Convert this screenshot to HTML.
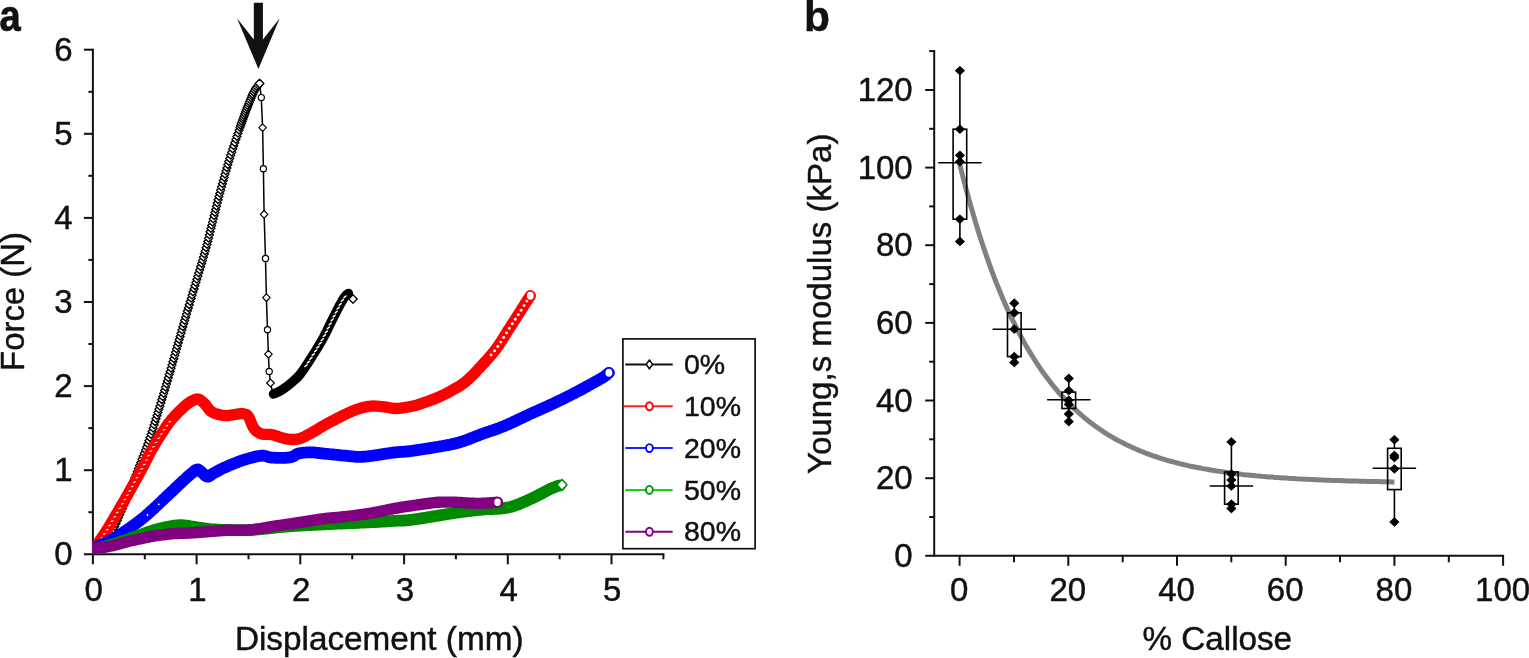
<!DOCTYPE html>
<html lang="en"><head><meta charset="utf-8"><title>Force–displacement and Young's modulus</title>
<style>html,body{margin:0;padding:0;background:#fff;}body{width:1529px;height:658px;overflow:hidden;}svg{display:block;}text{font-family:"Liberation Sans", sans-serif;fill:#111;stroke:#111;stroke-width:0.45px;}</style>
</head><body>
<svg width="1529" height="658" viewBox="0 0 1529 658">
<rect width="1529" height="658" fill="#fff"/>
<g id="panel-a">
<line x1="92.9" y1="48.7" x2="92.9" y2="555.3" stroke="#111" stroke-width="2" />
<line x1="83.9" y1="554.3" x2="664.4" y2="554.3" stroke="#111" stroke-width="2" />
<text x="72.6" y="565.2" font-size="33" text-anchor="end" font-weight="normal" >0</text>
<line x1="88.4" y1="512.2" x2="92.9" y2="512.2" stroke="#111" stroke-width="2" />
<line x1="83.9" y1="470.2" x2="92.9" y2="470.2" stroke="#111" stroke-width="2" />
<text x="72.6" y="481.1" font-size="33" text-anchor="end" font-weight="normal" >1</text>
<line x1="88.4" y1="428.1" x2="92.9" y2="428.1" stroke="#111" stroke-width="2" />
<line x1="83.9" y1="386.1" x2="92.9" y2="386.1" stroke="#111" stroke-width="2" />
<text x="72.6" y="397.0" font-size="33" text-anchor="end" font-weight="normal" >2</text>
<line x1="88.4" y1="344.0" x2="92.9" y2="344.0" stroke="#111" stroke-width="2" />
<line x1="83.9" y1="302.0" x2="92.9" y2="302.0" stroke="#111" stroke-width="2" />
<text x="72.6" y="312.9" font-size="33" text-anchor="end" font-weight="normal" >3</text>
<line x1="88.4" y1="259.9" x2="92.9" y2="259.9" stroke="#111" stroke-width="2" />
<line x1="83.9" y1="217.9" x2="92.9" y2="217.9" stroke="#111" stroke-width="2" />
<text x="72.6" y="228.8" font-size="33" text-anchor="end" font-weight="normal" >4</text>
<line x1="88.4" y1="175.8" x2="92.9" y2="175.8" stroke="#111" stroke-width="2" />
<line x1="83.9" y1="133.8" x2="92.9" y2="133.8" stroke="#111" stroke-width="2" />
<text x="72.6" y="144.7" font-size="33" text-anchor="end" font-weight="normal" >5</text>
<line x1="88.4" y1="91.8" x2="92.9" y2="91.8" stroke="#111" stroke-width="2" />
<line x1="83.9" y1="49.7" x2="92.9" y2="49.7" stroke="#111" stroke-width="2" />
<text x="72.6" y="60.6" font-size="33" text-anchor="end" font-weight="normal" >6</text>
<line x1="92.9" y1="554.3" x2="92.9" y2="564.3" stroke="#111" stroke-width="2" />
<text x="93.7" y="600.6" font-size="33" text-anchor="middle" font-weight="normal" >0</text>
<line x1="144.8" y1="554.3" x2="144.8" y2="559.3" stroke="#111" stroke-width="2" />
<line x1="196.6" y1="554.3" x2="196.6" y2="564.3" stroke="#111" stroke-width="2" />
<text x="197.4" y="600.6" font-size="33" text-anchor="middle" font-weight="normal" >1</text>
<line x1="248.5" y1="554.3" x2="248.5" y2="559.3" stroke="#111" stroke-width="2" />
<line x1="300.3" y1="554.3" x2="300.3" y2="564.3" stroke="#111" stroke-width="2" />
<text x="301.1" y="600.6" font-size="33" text-anchor="middle" font-weight="normal" >2</text>
<line x1="352.2" y1="554.3" x2="352.2" y2="559.3" stroke="#111" stroke-width="2" />
<line x1="404.1" y1="554.3" x2="404.1" y2="564.3" stroke="#111" stroke-width="2" />
<text x="404.9" y="600.6" font-size="33" text-anchor="middle" font-weight="normal" >3</text>
<line x1="455.9" y1="554.3" x2="455.9" y2="559.3" stroke="#111" stroke-width="2" />
<line x1="507.8" y1="554.3" x2="507.8" y2="564.3" stroke="#111" stroke-width="2" />
<text x="508.6" y="600.6" font-size="33" text-anchor="middle" font-weight="normal" >4</text>
<line x1="559.6" y1="554.3" x2="559.6" y2="559.3" stroke="#111" stroke-width="2" />
<line x1="611.5" y1="554.3" x2="611.5" y2="564.3" stroke="#111" stroke-width="2" />
<text x="612.3" y="600.6" font-size="33" text-anchor="middle" font-weight="normal" >5</text>
<line x1="663.4" y1="554.3" x2="663.4" y2="559.3" stroke="#111" stroke-width="2" />
<clipPath id="clipA"><rect x="92.2" y="0" width="700" height="553.4"/></clipPath>
<g clip-path="url(#clipA)">
<path d="M89.0 544.0L93.0 540.3L97.0 544.0L93.0 547.7Z" fill="#fff" stroke="#000" stroke-width="1.42" stroke-linejoin="round"/>
<path d="M92.3 543.5L96.3 539.8L100.3 543.5L96.3 547.2Z" fill="#fff" stroke="#000" stroke-width="1.42" stroke-linejoin="round"/>
<path d="M95.5 542.8L99.5 539.1L103.5 542.8L99.5 546.5Z" fill="#fff" stroke="#000" stroke-width="1.42" stroke-linejoin="round"/>
<path d="M98.6 541.7L102.6 538.0L106.6 541.7L102.6 545.4Z" fill="#fff" stroke="#000" stroke-width="1.42" stroke-linejoin="round"/>
<path d="M101.4 539.9L105.4 536.2L109.4 539.9L105.4 543.6Z" fill="#fff" stroke="#000" stroke-width="1.42" stroke-linejoin="round"/>
<path d="M103.8 537.8L107.8 534.1L111.8 537.8L107.8 541.5Z" fill="#fff" stroke="#000" stroke-width="1.42" stroke-linejoin="round"/>
<path d="M106.0 535.3L110.0 531.6L114.0 535.3L110.0 539.0Z" fill="#fff" stroke="#000" stroke-width="1.42" stroke-linejoin="round"/>
<path d="M107.8 532.5L111.8 528.8L115.8 532.5L111.8 536.2Z" fill="#fff" stroke="#000" stroke-width="1.42" stroke-linejoin="round"/>
<path d="M109.3 529.6L113.3 525.9L117.3 529.6L113.3 533.3Z" fill="#fff" stroke="#000" stroke-width="1.42" stroke-linejoin="round"/>
<path d="M110.7 526.6L114.7 522.9L118.7 526.6L114.7 530.3Z" fill="#fff" stroke="#000" stroke-width="1.42" stroke-linejoin="round"/>
<path d="M112.0 523.6L116.0 519.9L120.0 523.6L116.0 527.3Z" fill="#fff" stroke="#000" stroke-width="1.42" stroke-linejoin="round"/>
<path d="M113.3 520.5L117.3 516.8L121.3 520.5L117.3 524.2Z" fill="#fff" stroke="#000" stroke-width="1.42" stroke-linejoin="round"/>
<path d="M114.5 517.5L118.5 513.8L122.5 517.5L118.5 521.2Z" fill="#fff" stroke="#000" stroke-width="1.42" stroke-linejoin="round"/>
<path d="M115.8 514.4L119.8 510.7L123.8 514.4L119.8 518.1Z" fill="#fff" stroke="#000" stroke-width="1.42" stroke-linejoin="round"/>
<path d="M117.1 511.4L121.1 507.7L125.1 511.4L121.1 515.1Z" fill="#fff" stroke="#000" stroke-width="1.42" stroke-linejoin="round"/>
<path d="M118.5 508.4L122.5 504.7L126.5 508.4L122.5 512.1Z" fill="#fff" stroke="#000" stroke-width="1.42" stroke-linejoin="round"/>
<path d="M119.8 505.3L123.8 501.6L127.8 505.3L123.8 509.0Z" fill="#fff" stroke="#000" stroke-width="1.42" stroke-linejoin="round"/>
<path d="M121.1 502.3L125.1 498.6L129.1 502.3L125.1 506.0Z" fill="#fff" stroke="#000" stroke-width="1.42" stroke-linejoin="round"/>
<path d="M122.4 499.3L126.4 495.6L130.4 499.3L126.4 503.0Z" fill="#fff" stroke="#000" stroke-width="1.42" stroke-linejoin="round"/>
<path d="M123.7 496.2L127.7 492.5L131.7 496.2L127.7 499.9Z" fill="#fff" stroke="#000" stroke-width="1.42" stroke-linejoin="round"/>
<path d="M124.9 493.2L128.9 489.5L132.9 493.2L128.9 496.9Z" fill="#fff" stroke="#000" stroke-width="1.42" stroke-linejoin="round"/>
<path d="M126.2 490.1L130.2 486.4L134.2 490.1L130.2 493.8Z" fill="#fff" stroke="#000" stroke-width="1.42" stroke-linejoin="round"/>
<path d="M127.4 487.1L131.4 483.4L135.4 487.1L131.4 490.8Z" fill="#fff" stroke="#000" stroke-width="1.42" stroke-linejoin="round"/>
<path d="M128.6 484.0L132.6 480.3L136.6 484.0L132.6 487.7Z" fill="#fff" stroke="#000" stroke-width="1.42" stroke-linejoin="round"/>
<path d="M129.8 480.9L133.8 477.2L137.8 480.9L133.8 484.6Z" fill="#fff" stroke="#000" stroke-width="1.42" stroke-linejoin="round"/>
<path d="M130.9 477.8L134.9 474.1L138.9 477.8L134.9 481.5Z" fill="#fff" stroke="#000" stroke-width="1.42" stroke-linejoin="round"/>
<path d="M132.1 474.7L136.1 471.0L140.1 474.7L136.1 478.4Z" fill="#fff" stroke="#000" stroke-width="1.42" stroke-linejoin="round"/>
<path d="M133.3 471.7L137.3 468.0L141.3 471.7L137.3 475.4Z" fill="#fff" stroke="#000" stroke-width="1.42" stroke-linejoin="round"/>
<path d="M134.5 468.6L138.5 464.9L142.5 468.6L138.5 472.3Z" fill="#fff" stroke="#000" stroke-width="1.42" stroke-linejoin="round"/>
<path d="M135.6 465.5L139.6 461.8L143.6 465.5L139.6 469.2Z" fill="#fff" stroke="#000" stroke-width="1.42" stroke-linejoin="round"/>
<path d="M136.8 462.4L140.8 458.7L144.8 462.4L140.8 466.1Z" fill="#fff" stroke="#000" stroke-width="1.42" stroke-linejoin="round"/>
<path d="M138.0 459.3L142.0 455.6L146.0 459.3L142.0 463.0Z" fill="#fff" stroke="#000" stroke-width="1.42" stroke-linejoin="round"/>
<path d="M139.2 456.3L143.2 452.6L147.2 456.3L143.2 460.0Z" fill="#fff" stroke="#000" stroke-width="1.42" stroke-linejoin="round"/>
<path d="M140.4 453.2L144.4 449.5L148.4 453.2L144.4 456.9Z" fill="#fff" stroke="#000" stroke-width="1.42" stroke-linejoin="round"/>
<path d="M141.6 450.1L145.6 446.4L149.6 450.1L145.6 453.8Z" fill="#fff" stroke="#000" stroke-width="1.42" stroke-linejoin="round"/>
<path d="M142.7 447.0L146.7 443.3L150.7 447.0L146.7 450.7Z" fill="#fff" stroke="#000" stroke-width="1.42" stroke-linejoin="round"/>
<path d="M143.8 443.9L147.8 440.2L151.8 443.9L147.8 447.6Z" fill="#fff" stroke="#000" stroke-width="1.42" stroke-linejoin="round"/>
<path d="M144.9 440.8L148.9 437.1L152.9 440.8L148.9 444.5Z" fill="#fff" stroke="#000" stroke-width="1.42" stroke-linejoin="round"/>
<path d="M146.0 437.7L150.0 434.0L154.0 437.7L150.0 441.4Z" fill="#fff" stroke="#000" stroke-width="1.42" stroke-linejoin="round"/>
<path d="M147.0 434.5L151.0 430.8L155.0 434.5L151.0 438.2Z" fill="#fff" stroke="#000" stroke-width="1.42" stroke-linejoin="round"/>
<path d="M148.1 431.4L152.1 427.7L156.1 431.4L152.1 435.1Z" fill="#fff" stroke="#000" stroke-width="1.42" stroke-linejoin="round"/>
<path d="M149.1 428.2L153.1 424.5L157.1 428.2L153.1 431.9Z" fill="#fff" stroke="#000" stroke-width="1.42" stroke-linejoin="round"/>
<path d="M150.1 425.1L154.1 421.4L158.1 425.1L154.1 428.8Z" fill="#fff" stroke="#000" stroke-width="1.42" stroke-linejoin="round"/>
<path d="M151.0 421.9L155.0 418.2L159.0 421.9L155.0 425.6Z" fill="#fff" stroke="#000" stroke-width="1.42" stroke-linejoin="round"/>
<path d="M152.0 418.8L156.0 415.1L160.0 418.8L156.0 422.5Z" fill="#fff" stroke="#000" stroke-width="1.42" stroke-linejoin="round"/>
<path d="M153.0 415.6L157.0 411.9L161.0 415.6L157.0 419.3Z" fill="#fff" stroke="#000" stroke-width="1.42" stroke-linejoin="round"/>
<path d="M153.9 412.5L157.9 408.8L161.9 412.5L157.9 416.2Z" fill="#fff" stroke="#000" stroke-width="1.42" stroke-linejoin="round"/>
<path d="M154.9 409.3L158.9 405.6L162.9 409.3L158.9 413.0Z" fill="#fff" stroke="#000" stroke-width="1.42" stroke-linejoin="round"/>
<path d="M155.9 406.2L159.9 402.5L163.9 406.2L159.9 409.9Z" fill="#fff" stroke="#000" stroke-width="1.42" stroke-linejoin="round"/>
<path d="M156.8 403.0L160.8 399.3L164.8 403.0L160.8 406.7Z" fill="#fff" stroke="#000" stroke-width="1.42" stroke-linejoin="round"/>
<path d="M157.8 399.8L161.8 396.1L165.8 399.8L161.8 403.5Z" fill="#fff" stroke="#000" stroke-width="1.42" stroke-linejoin="round"/>
<path d="M158.7 396.7L162.7 393.0L166.7 396.7L162.7 400.4Z" fill="#fff" stroke="#000" stroke-width="1.42" stroke-linejoin="round"/>
<path d="M159.7 393.5L163.7 389.8L167.7 393.5L163.7 397.2Z" fill="#fff" stroke="#000" stroke-width="1.42" stroke-linejoin="round"/>
<path d="M160.6 390.4L164.6 386.7L168.6 390.4L164.6 394.1Z" fill="#fff" stroke="#000" stroke-width="1.42" stroke-linejoin="round"/>
<path d="M161.5 387.2L165.5 383.5L169.5 387.2L165.5 390.9Z" fill="#fff" stroke="#000" stroke-width="1.42" stroke-linejoin="round"/>
<path d="M162.5 384.0L166.5 380.3L170.5 384.0L166.5 387.7Z" fill="#fff" stroke="#000" stroke-width="1.42" stroke-linejoin="round"/>
<path d="M163.4 380.9L167.4 377.2L171.4 380.9L167.4 384.6Z" fill="#fff" stroke="#000" stroke-width="1.42" stroke-linejoin="round"/>
<path d="M164.3 377.7L168.3 374.0L172.3 377.7L168.3 381.4Z" fill="#fff" stroke="#000" stroke-width="1.42" stroke-linejoin="round"/>
<path d="M165.2 374.5L169.2 370.8L173.2 374.5L169.2 378.2Z" fill="#fff" stroke="#000" stroke-width="1.42" stroke-linejoin="round"/>
<path d="M166.2 371.4L170.2 367.7L174.2 371.4L170.2 375.1Z" fill="#fff" stroke="#000" stroke-width="1.42" stroke-linejoin="round"/>
<path d="M167.1 368.2L171.1 364.5L175.1 368.2L171.1 371.9Z" fill="#fff" stroke="#000" stroke-width="1.42" stroke-linejoin="round"/>
<path d="M168.0 365.0L172.0 361.3L176.0 365.0L172.0 368.7Z" fill="#fff" stroke="#000" stroke-width="1.42" stroke-linejoin="round"/>
<path d="M168.9 361.8L172.9 358.1L176.9 361.8L172.9 365.5Z" fill="#fff" stroke="#000" stroke-width="1.42" stroke-linejoin="round"/>
<path d="M169.8 358.7L173.8 355.0L177.8 358.7L173.8 362.4Z" fill="#fff" stroke="#000" stroke-width="1.42" stroke-linejoin="round"/>
<path d="M170.7 355.5L174.7 351.8L178.7 355.5L174.7 359.2Z" fill="#fff" stroke="#000" stroke-width="1.42" stroke-linejoin="round"/>
<path d="M171.6 352.3L175.6 348.6L179.6 352.3L175.6 356.0Z" fill="#fff" stroke="#000" stroke-width="1.42" stroke-linejoin="round"/>
<path d="M172.5 349.1L176.5 345.4L180.5 349.1L176.5 352.8Z" fill="#fff" stroke="#000" stroke-width="1.42" stroke-linejoin="round"/>
<path d="M173.4 346.0L177.4 342.3L181.4 346.0L177.4 349.7Z" fill="#fff" stroke="#000" stroke-width="1.42" stroke-linejoin="round"/>
<path d="M174.3 342.8L178.3 339.1L182.3 342.8L178.3 346.5Z" fill="#fff" stroke="#000" stroke-width="1.42" stroke-linejoin="round"/>
<path d="M175.2 339.6L179.2 335.9L183.2 339.6L179.2 343.3Z" fill="#fff" stroke="#000" stroke-width="1.42" stroke-linejoin="round"/>
<path d="M176.1 336.4L180.1 332.7L184.1 336.4L180.1 340.1Z" fill="#fff" stroke="#000" stroke-width="1.42" stroke-linejoin="round"/>
<path d="M177.0 333.3L181.0 329.6L185.0 333.3L181.0 337.0Z" fill="#fff" stroke="#000" stroke-width="1.42" stroke-linejoin="round"/>
<path d="M177.9 330.1L181.9 326.4L185.9 330.1L181.9 333.8Z" fill="#fff" stroke="#000" stroke-width="1.42" stroke-linejoin="round"/>
<path d="M178.8 326.9L182.8 323.2L186.8 326.9L182.8 330.6Z" fill="#fff" stroke="#000" stroke-width="1.42" stroke-linejoin="round"/>
<path d="M179.7 323.8L183.7 320.1L187.7 323.8L183.7 327.5Z" fill="#fff" stroke="#000" stroke-width="1.42" stroke-linejoin="round"/>
<path d="M180.6 320.6L184.6 316.9L188.6 320.6L184.6 324.3Z" fill="#fff" stroke="#000" stroke-width="1.42" stroke-linejoin="round"/>
<path d="M181.6 317.4L185.6 313.7L189.6 317.4L185.6 321.1Z" fill="#fff" stroke="#000" stroke-width="1.42" stroke-linejoin="round"/>
<path d="M182.5 314.3L186.5 310.6L190.5 314.3L186.5 318.0Z" fill="#fff" stroke="#000" stroke-width="1.42" stroke-linejoin="round"/>
<path d="M183.4 311.1L187.4 307.4L191.4 311.1L187.4 314.8Z" fill="#fff" stroke="#000" stroke-width="1.42" stroke-linejoin="round"/>
<path d="M184.4 307.9L188.4 304.2L192.4 307.9L188.4 311.6Z" fill="#fff" stroke="#000" stroke-width="1.42" stroke-linejoin="round"/>
<path d="M185.3 304.8L189.3 301.1L193.3 304.8L189.3 308.5Z" fill="#fff" stroke="#000" stroke-width="1.42" stroke-linejoin="round"/>
<path d="M186.2 301.6L190.2 297.9L194.2 301.6L190.2 305.3Z" fill="#fff" stroke="#000" stroke-width="1.42" stroke-linejoin="round"/>
<path d="M187.2 298.4L191.2 294.7L195.2 298.4L191.2 302.1Z" fill="#fff" stroke="#000" stroke-width="1.42" stroke-linejoin="round"/>
<path d="M188.1 295.3L192.1 291.6L196.1 295.3L192.1 299.0Z" fill="#fff" stroke="#000" stroke-width="1.42" stroke-linejoin="round"/>
<path d="M189.0 292.1L193.0 288.4L197.0 292.1L193.0 295.8Z" fill="#fff" stroke="#000" stroke-width="1.42" stroke-linejoin="round"/>
<path d="M190.0 288.9L194.0 285.2L198.0 288.9L194.0 292.6Z" fill="#fff" stroke="#000" stroke-width="1.42" stroke-linejoin="round"/>
<path d="M190.9 285.8L194.9 282.1L198.9 285.8L194.9 289.5Z" fill="#fff" stroke="#000" stroke-width="1.42" stroke-linejoin="round"/>
<path d="M191.9 282.6L195.9 278.9L199.9 282.6L195.9 286.3Z" fill="#fff" stroke="#000" stroke-width="1.42" stroke-linejoin="round"/>
<path d="M192.8 279.4L196.8 275.7L200.8 279.4L196.8 283.1Z" fill="#fff" stroke="#000" stroke-width="1.42" stroke-linejoin="round"/>
<path d="M193.8 276.3L197.8 272.6L201.8 276.3L197.8 280.0Z" fill="#fff" stroke="#000" stroke-width="1.42" stroke-linejoin="round"/>
<path d="M194.7 273.1L198.7 269.4L202.7 273.1L198.7 276.8Z" fill="#fff" stroke="#000" stroke-width="1.42" stroke-linejoin="round"/>
<path d="M195.7 270.0L199.7 266.3L203.7 270.0L199.7 273.7Z" fill="#fff" stroke="#000" stroke-width="1.42" stroke-linejoin="round"/>
<path d="M196.6 266.8L200.6 263.1L204.6 266.8L200.6 270.5Z" fill="#fff" stroke="#000" stroke-width="1.42" stroke-linejoin="round"/>
<path d="M197.6 263.6L201.6 259.9L205.6 263.6L201.6 267.3Z" fill="#fff" stroke="#000" stroke-width="1.42" stroke-linejoin="round"/>
<path d="M198.5 260.5L202.5 256.8L206.5 260.5L202.5 264.2Z" fill="#fff" stroke="#000" stroke-width="1.42" stroke-linejoin="round"/>
<path d="M199.4 257.3L203.4 253.6L207.4 257.3L203.4 261.0Z" fill="#fff" stroke="#000" stroke-width="1.42" stroke-linejoin="round"/>
<path d="M200.3 254.1L204.3 250.4L208.3 254.1L204.3 257.8Z" fill="#fff" stroke="#000" stroke-width="1.42" stroke-linejoin="round"/>
<path d="M201.2 251.0L205.2 247.3L209.2 251.0L205.2 254.7Z" fill="#fff" stroke="#000" stroke-width="1.42" stroke-linejoin="round"/>
<path d="M202.1 247.8L206.1 244.1L210.1 247.8L206.1 251.5Z" fill="#fff" stroke="#000" stroke-width="1.42" stroke-linejoin="round"/>
<path d="M203.0 244.6L207.0 240.9L211.0 244.6L207.0 248.3Z" fill="#fff" stroke="#000" stroke-width="1.42" stroke-linejoin="round"/>
<path d="M203.8 241.4L207.8 237.7L211.8 241.4L207.8 245.1Z" fill="#fff" stroke="#000" stroke-width="1.42" stroke-linejoin="round"/>
<path d="M204.6 238.2L208.6 234.5L212.6 238.2L208.6 241.9Z" fill="#fff" stroke="#000" stroke-width="1.42" stroke-linejoin="round"/>
<path d="M205.4 235.0L209.4 231.3L213.4 235.0L209.4 238.7Z" fill="#fff" stroke="#000" stroke-width="1.42" stroke-linejoin="round"/>
<path d="M206.1 231.8L210.1 228.1L214.1 231.8L210.1 235.5Z" fill="#fff" stroke="#000" stroke-width="1.42" stroke-linejoin="round"/>
<path d="M206.9 228.6L210.9 224.9L214.9 228.6L210.9 232.3Z" fill="#fff" stroke="#000" stroke-width="1.42" stroke-linejoin="round"/>
<path d="M207.7 225.4L211.7 221.7L215.7 225.4L211.7 229.1Z" fill="#fff" stroke="#000" stroke-width="1.42" stroke-linejoin="round"/>
<path d="M208.5 222.2L212.5 218.5L216.5 222.2L212.5 225.9Z" fill="#fff" stroke="#000" stroke-width="1.42" stroke-linejoin="round"/>
<path d="M209.3 219.0L213.3 215.3L217.3 219.0L213.3 222.7Z" fill="#fff" stroke="#000" stroke-width="1.42" stroke-linejoin="round"/>
<path d="M210.1 215.8L214.1 212.1L218.1 215.8L214.1 219.5Z" fill="#fff" stroke="#000" stroke-width="1.42" stroke-linejoin="round"/>
<path d="M210.9 212.6L214.9 208.9L218.9 212.6L214.9 216.3Z" fill="#fff" stroke="#000" stroke-width="1.42" stroke-linejoin="round"/>
<path d="M211.7 209.4L215.7 205.7L219.7 209.4L215.7 213.1Z" fill="#fff" stroke="#000" stroke-width="1.42" stroke-linejoin="round"/>
<path d="M212.5 206.2L216.5 202.5L220.5 206.2L216.5 209.9Z" fill="#fff" stroke="#000" stroke-width="1.42" stroke-linejoin="round"/>
<path d="M213.3 203.0L217.3 199.3L221.3 203.0L217.3 206.7Z" fill="#fff" stroke="#000" stroke-width="1.42" stroke-linejoin="round"/>
<path d="M214.1 199.8L218.1 196.1L222.1 199.8L218.1 203.5Z" fill="#fff" stroke="#000" stroke-width="1.42" stroke-linejoin="round"/>
<path d="M214.9 196.6L218.9 192.9L222.9 196.6L218.9 200.3Z" fill="#fff" stroke="#000" stroke-width="1.42" stroke-linejoin="round"/>
<path d="M215.8 193.4L219.8 189.7L223.8 193.4L219.8 197.1Z" fill="#fff" stroke="#000" stroke-width="1.42" stroke-linejoin="round"/>
<path d="M216.6 190.2L220.6 186.5L224.6 190.2L220.6 193.9Z" fill="#fff" stroke="#000" stroke-width="1.42" stroke-linejoin="round"/>
<path d="M217.5 187.0L221.5 183.3L225.5 187.0L221.5 190.7Z" fill="#fff" stroke="#000" stroke-width="1.42" stroke-linejoin="round"/>
<path d="M218.4 183.8L222.4 180.1L226.4 183.8L222.4 187.5Z" fill="#fff" stroke="#000" stroke-width="1.42" stroke-linejoin="round"/>
<path d="M219.3 180.6L223.3 176.9L227.3 180.6L223.3 184.3Z" fill="#fff" stroke="#000" stroke-width="1.42" stroke-linejoin="round"/>
<path d="M220.2 177.5L224.2 173.8L228.2 177.5L224.2 181.2Z" fill="#fff" stroke="#000" stroke-width="1.42" stroke-linejoin="round"/>
<path d="M221.0 174.3L225.0 170.6L229.0 174.3L225.0 178.0Z" fill="#fff" stroke="#000" stroke-width="1.42" stroke-linejoin="round"/>
<path d="M222.0 171.1L226.0 167.4L230.0 171.1L226.0 174.8Z" fill="#fff" stroke="#000" stroke-width="1.42" stroke-linejoin="round"/>
<path d="M222.9 167.9L226.9 164.2L230.9 167.9L226.9 171.6Z" fill="#fff" stroke="#000" stroke-width="1.42" stroke-linejoin="round"/>
<path d="M223.8 164.8L227.8 161.1L231.8 164.8L227.8 168.5Z" fill="#fff" stroke="#000" stroke-width="1.42" stroke-linejoin="round"/>
<path d="M224.7 161.6L228.7 157.9L232.7 161.6L228.7 165.3Z" fill="#fff" stroke="#000" stroke-width="1.42" stroke-linejoin="round"/>
<path d="M225.7 158.5L229.7 154.8L233.7 158.5L229.7 162.2Z" fill="#fff" stroke="#000" stroke-width="1.42" stroke-linejoin="round"/>
<path d="M226.7 155.3L230.7 151.6L234.7 155.3L230.7 159.0Z" fill="#fff" stroke="#000" stroke-width="1.42" stroke-linejoin="round"/>
<path d="M227.7 152.2L231.7 148.5L235.7 152.2L231.7 155.9Z" fill="#fff" stroke="#000" stroke-width="1.42" stroke-linejoin="round"/>
<path d="M228.7 149.0L232.7 145.3L236.7 149.0L232.7 152.7Z" fill="#fff" stroke="#000" stroke-width="1.42" stroke-linejoin="round"/>
<path d="M229.7 145.9L233.7 142.2L237.7 145.9L233.7 149.6Z" fill="#fff" stroke="#000" stroke-width="1.42" stroke-linejoin="round"/>
<path d="M230.8 142.8L234.8 139.1L238.8 142.8L234.8 146.5Z" fill="#fff" stroke="#000" stroke-width="1.42" stroke-linejoin="round"/>
<path d="M231.9 139.6L235.9 135.9L239.9 139.6L235.9 143.3Z" fill="#fff" stroke="#000" stroke-width="1.42" stroke-linejoin="round"/>
<path d="M232.9 136.5L236.9 132.8L240.9 136.5L236.9 140.2Z" fill="#fff" stroke="#000" stroke-width="1.42" stroke-linejoin="round"/>
<path d="M234.0 133.4L238.0 129.7L242.0 133.4L238.0 137.1Z" fill="#fff" stroke="#000" stroke-width="1.42" stroke-linejoin="round"/>
<path d="M235.1 130.3L239.1 126.6L243.1 130.3L239.1 134.0Z" fill="#fff" stroke="#000" stroke-width="1.42" stroke-linejoin="round"/>
<path d="M236.0 127.6L240.0 123.9L244.0 127.6L240.0 131.3Z" fill="#fff" stroke="#000" stroke-width="1.42" stroke-linejoin="round"/>
<path d="M236.7 125.6L240.7 121.9L244.7 125.6L240.7 129.3Z" fill="#fff" stroke="#000" stroke-width="1.42" stroke-linejoin="round"/>
<path d="M237.4 123.6L241.4 119.9L245.4 123.6L241.4 127.3Z" fill="#fff" stroke="#000" stroke-width="1.42" stroke-linejoin="round"/>
<path d="M238.1 121.6L242.1 117.9L246.1 121.6L242.1 125.3Z" fill="#fff" stroke="#000" stroke-width="1.42" stroke-linejoin="round"/>
<path d="M238.8 119.6L242.8 115.9L246.8 119.6L242.8 123.3Z" fill="#fff" stroke="#000" stroke-width="1.42" stroke-linejoin="round"/>
<path d="M239.5 117.7L243.5 114.0L247.5 117.7L243.5 121.4Z" fill="#fff" stroke="#000" stroke-width="1.42" stroke-linejoin="round"/>
<path d="M240.2 115.7L244.2 112.0L248.2 115.7L244.2 119.4Z" fill="#fff" stroke="#000" stroke-width="1.42" stroke-linejoin="round"/>
<path d="M240.9 113.7L244.9 110.0L248.9 113.7L244.9 117.4Z" fill="#fff" stroke="#000" stroke-width="1.42" stroke-linejoin="round"/>
<path d="M241.6 111.7L245.6 108.0L249.6 111.7L245.6 115.4Z" fill="#fff" stroke="#000" stroke-width="1.42" stroke-linejoin="round"/>
<path d="M242.4 109.8L246.4 106.1L250.4 109.8L246.4 113.5Z" fill="#fff" stroke="#000" stroke-width="1.42" stroke-linejoin="round"/>
<path d="M243.2 107.8L247.2 104.1L251.2 107.8L247.2 111.5Z" fill="#fff" stroke="#000" stroke-width="1.42" stroke-linejoin="round"/>
<path d="M243.9 105.9L247.9 102.2L251.9 105.9L247.9 109.6Z" fill="#fff" stroke="#000" stroke-width="1.42" stroke-linejoin="round"/>
<path d="M244.7 103.9L248.7 100.2L252.7 103.9L248.7 107.6Z" fill="#fff" stroke="#000" stroke-width="1.42" stroke-linejoin="round"/>
<path d="M245.5 102.0L249.5 98.3L253.5 102.0L249.5 105.7Z" fill="#fff" stroke="#000" stroke-width="1.42" stroke-linejoin="round"/>
<path d="M246.3 100.0L250.3 96.3L254.3 100.0L250.3 103.7Z" fill="#fff" stroke="#000" stroke-width="1.42" stroke-linejoin="round"/>
<path d="M247.1 98.1L251.1 94.4L255.1 98.1L251.1 101.8Z" fill="#fff" stroke="#000" stroke-width="1.42" stroke-linejoin="round"/>
<path d="M247.9 96.1L251.9 92.4L255.9 96.1L251.9 99.8Z" fill="#fff" stroke="#000" stroke-width="1.42" stroke-linejoin="round"/>
<path d="M248.7 94.2L252.7 90.5L256.7 94.2L252.7 97.9Z" fill="#fff" stroke="#000" stroke-width="1.42" stroke-linejoin="round"/>
<path d="M249.6 92.3L253.6 88.6L257.6 92.3L253.6 96.0Z" fill="#fff" stroke="#000" stroke-width="1.42" stroke-linejoin="round"/>
<path d="M250.6 90.4L254.6 86.7L258.6 90.4L254.6 94.1Z" fill="#fff" stroke="#000" stroke-width="1.42" stroke-linejoin="round"/>
<path d="M251.6 88.6L255.6 84.9L259.6 88.6L255.6 92.3Z" fill="#fff" stroke="#000" stroke-width="1.42" stroke-linejoin="round"/>
<path d="M252.8 86.9L256.8 83.2L260.8 86.9L256.8 90.6Z" fill="#fff" stroke="#000" stroke-width="1.42" stroke-linejoin="round"/>
<path d="M254.1 85.2L258.1 81.5L262.1 85.2L258.1 88.9Z" fill="#fff" stroke="#000" stroke-width="1.42" stroke-linejoin="round"/>
<path d="M255.4 83.6L259.4 79.9L263.4 83.6L259.4 87.3Z" fill="#fff" stroke="#000" stroke-width="1.42" stroke-linejoin="round"/>
<polyline points="259.6,83.5 261.3,97.6 262.6,127.6 263.4,168.7 264.1,214.3 265.5,258.4 266.4,297.7 267.5,329.8 268.4,354.2 269.2,371.4 270.5,383.0 272.5,392.0" fill="none" stroke="#000" stroke-width="1.5" stroke-linejoin="round" stroke-linecap="round"/>
<polyline points="273.5,394.0 274.4,393.6 275.3,393.2 276.3,392.8 277.2,392.4 278.1,392.0 279.0,391.5 279.9,391.1 280.7,390.6 281.6,390.1 282.4,389.5 283.3,389.0 284.1,388.4 284.9,387.9 285.7,387.3 286.5,386.7 287.3,386.1 288.1,385.5 288.9,384.8 289.7,384.2 290.5,383.6 291.2,383.0 292.0,382.3 292.7,381.6 293.5,381.0 294.2,380.3 295.0,379.6 295.7,378.9 296.4,378.3 297.2,377.6 297.9,376.9 298.5,376.1 299.2,375.4 299.8,374.6 300.5,373.8 301.1,373.0 301.7,372.2 302.3,371.4 302.8,370.6 303.4,369.8 304.0,369.0 304.5,368.1 305.1,367.3 305.6,366.5 306.2,365.6 306.7,364.8 307.3,364.0 307.8,363.1 308.4,362.3 308.9,361.4 309.5,360.6 310.0,359.8 310.5,358.9 311.1,358.1 311.6,357.2 312.1,356.4 312.7,355.5 313.2,354.7 313.7,353.8 314.3,353.0 314.8,352.2 315.3,351.3 315.9,350.5 316.4,349.6 316.9,348.8 317.4,347.9 318.0,347.0 318.5,346.2 319.0,345.3 319.5,344.5 320.0,343.6 320.5,342.8 321.0,341.9 321.5,341.0 322.0,340.2 322.5,339.3 323.0,338.4 323.5,337.5 323.9,336.6 324.4,335.8 324.9,334.9 325.3,334.0 325.8,333.1 326.2,332.2 326.7,331.3 327.1,330.4 327.5,329.5 328.0,328.6 328.4,327.7 328.8,326.8 329.3,325.9 329.7,325.0 330.1,324.1 330.6,323.2 331.0,322.3 331.4,321.4 331.9,320.5 332.3,319.6 332.8,318.7 333.3,317.8 333.7,316.9 334.2,316.0 334.6,315.2 335.1,314.3 335.5,313.4 336.0,312.5 336.4,311.6 336.9,310.7 337.3,309.8 337.8,308.9 338.3,308.0 338.7,307.1 339.2,306.3 339.6,305.4 340.1,304.5 340.6,303.6 341.1,302.7 341.6,301.9 342.1,301.0 342.6,300.1 343.1,299.3 343.6,298.4 344.2,297.6 344.8,296.8 345.5,296.1 346.1,295.3 346.9,294.6 347.6,294.0 348.4,293.4" fill="none" stroke="#000" stroke-width="9.5" stroke-linejoin="round" stroke-linecap="round"/>
<ellipse cx="306.0" cy="365.7" rx="2.3" ry="0.8" fill="#fff" transform="rotate(-38 306.0 365.7)"/>
<ellipse cx="308.5" cy="362.0" rx="2.3" ry="0.8" fill="#fff" transform="rotate(-38 308.5 362.0)"/>
<ellipse cx="310.9" cy="358.4" rx="2.3" ry="0.8" fill="#fff" transform="rotate(-38 310.9 358.4)"/>
<ellipse cx="313.2" cy="354.6" rx="2.3" ry="0.8" fill="#fff" transform="rotate(-38 313.2 354.6)"/>
<ellipse cx="315.6" cy="350.9" rx="2.3" ry="0.8" fill="#fff" transform="rotate(-38 315.6 350.9)"/>
<ellipse cx="317.9" cy="347.2" rx="2.3" ry="0.8" fill="#fff" transform="rotate(-38 317.9 347.2)"/>
<ellipse cx="320.1" cy="343.4" rx="2.3" ry="0.8" fill="#fff" transform="rotate(-38 320.1 343.4)"/>
<ellipse cx="322.3" cy="339.6" rx="2.3" ry="0.8" fill="#fff" transform="rotate(-38 322.3 339.6)"/>
<ellipse cx="324.4" cy="335.7" rx="2.3" ry="0.8" fill="#fff" transform="rotate(-38 324.4 335.7)"/>
<ellipse cx="326.4" cy="331.8" rx="2.3" ry="0.8" fill="#fff" transform="rotate(-38 326.4 331.8)"/>
<ellipse cx="328.3" cy="327.8" rx="2.3" ry="0.8" fill="#fff" transform="rotate(-38 328.3 327.8)"/>
<ellipse cx="330.2" cy="323.9" rx="2.3" ry="0.8" fill="#fff" transform="rotate(-38 330.2 323.9)"/>
<ellipse cx="332.2" cy="319.9" rx="2.3" ry="0.8" fill="#fff" transform="rotate(-38 332.2 319.9)"/>
<ellipse cx="334.2" cy="316.0" rx="2.3" ry="0.8" fill="#fff" transform="rotate(-38 334.2 316.0)"/>
<ellipse cx="336.2" cy="312.1" rx="2.3" ry="0.8" fill="#fff" transform="rotate(-38 336.2 312.1)"/>
<ellipse cx="338.2" cy="308.2" rx="2.3" ry="0.8" fill="#fff" transform="rotate(-38 338.2 308.2)"/>
<ellipse cx="340.2" cy="304.3" rx="2.3" ry="0.8" fill="#fff" transform="rotate(-38 340.2 304.3)"/>
<ellipse cx="342.4" cy="300.4" rx="2.3" ry="0.8" fill="#fff" transform="rotate(-38 342.4 300.4)"/>
<ellipse cx="344.9" cy="296.8" rx="2.3" ry="0.8" fill="#fff" transform="rotate(-38 344.9 296.8)"/>
<circle cx="261.3" cy="97.6" r="3.1" fill="#fff" stroke="#000" stroke-width="1.2"/>
<path d="M258.8 127.6L262.6 123.8L266.4 127.6L262.6 131.4Z" fill="#fff" stroke="#000" stroke-width="1.2" stroke-linejoin="round"/>
<circle cx="263.4" cy="168.7" r="3.1" fill="#fff" stroke="#000" stroke-width="1.2"/>
<path d="M260.3 214.3L264.1 210.5L267.9 214.3L264.1 218.1Z" fill="#fff" stroke="#000" stroke-width="1.2" stroke-linejoin="round"/>
<circle cx="265.5" cy="258.4" r="3.1" fill="#fff" stroke="#000" stroke-width="1.2"/>
<path d="M262.6 297.7L266.4 293.9L270.2 297.7L266.4 301.5Z" fill="#fff" stroke="#000" stroke-width="1.2" stroke-linejoin="round"/>
<circle cx="267.5" cy="329.8" r="3.1" fill="#fff" stroke="#000" stroke-width="1.2"/>
<path d="M264.6 354.2L268.4 350.4L272.2 354.2L268.4 358.0Z" fill="#fff" stroke="#000" stroke-width="1.2" stroke-linejoin="round"/>
<circle cx="269.2" cy="371.4" r="3.1" fill="#fff" stroke="#000" stroke-width="1.2"/>
<path d="M266.7 383.0L270.5 379.2L274.3 383.0L270.5 386.8Z" fill="#fff" stroke="#000" stroke-width="1.2" stroke-linejoin="round"/>
<path d="M255.3 83.5L259.6 79.2L263.9 83.5L259.6 87.8Z" fill="#fff" stroke="#000" stroke-width="1.3" stroke-linejoin="round"/>
<path d="M348.8 299.0L353.0 294.8L357.2 299.0L353.0 303.2Z" fill="#fff" stroke="#000" stroke-width="1.3" stroke-linejoin="round"/>
<polyline points="88.0,559.0 88.3,558.5 88.7,557.8 89.2,557.0 89.8,556.1 90.4,555.2 91.0,554.2 91.7,553.1 92.3,552.0 93.0,551.0 93.5,550.2 94.1,549.4 94.6,548.5 95.2,547.6 95.8,546.7 96.4,545.8 97.0,544.9 97.6,543.9 98.3,543.0 98.9,542.1 99.4,541.3 100.0,540.4 100.6,539.5 101.2,538.6 101.8,537.7 102.4,536.9 102.9,536.0 103.5,535.2 104.1,534.3 104.6,533.5 105.2,532.6 105.7,531.8 106.3,530.9 106.8,530.1 107.3,529.4 107.7,528.7 108.1,528.1 108.5,527.4 108.9,526.7 109.4,525.9 110.0,525.0 110.6,523.9 111.4,522.6 112.3,521.0 112.7,520.4 113.1,519.7 113.5,519.0 113.9,518.3 114.3,517.6 114.8,516.8 115.2,516.0 115.7,515.2 116.2,514.3 116.7,513.5 117.3,512.6 117.8,511.7 118.3,510.8 118.9,509.8 119.4,508.9 120.0,507.9 120.5,507.0 121.1,506.0 121.7,505.0 122.3,504.0 122.8,503.1 123.4,502.1 124.0,501.1 124.5,500.1 125.1,499.1 125.6,498.2 126.2,497.2 126.7,496.3 127.3,495.3 127.8,494.4 128.3,493.5 128.8,492.6 129.3,491.7 129.8,490.8 130.3,489.9 130.8,489.0 131.3,488.1 131.9,487.1 132.4,486.2 132.9,485.2 133.4,484.3 134.0,483.3 134.5,482.4 135.0,481.4 135.5,480.5 136.0,479.5 136.6,478.6 137.1,477.6 137.6,476.7 138.1,475.8 138.6,474.9 139.1,474.0 139.5,473.1 140.0,472.2 140.5,471.4 140.9,470.5 141.4,469.7 141.8,468.9 142.2,468.1 142.6,467.4 143.0,466.6 143.4,465.9 143.8,465.2 144.5,464.0 145.1,462.8 145.6,461.8 146.1,460.8 146.6,459.8 147.0,458.9 147.4,458.1 147.8,457.3 148.2,456.5 148.6,455.7 149.0,455.0 149.4,454.2 149.7,453.4 150.2,452.6 150.6,451.8 151.1,450.9 151.6,450.0 152.1,449.1 152.6,448.3 153.1,447.4 153.6,446.5 154.2,445.6 154.7,444.6 155.3,443.7 155.9,442.8 156.4,441.8 157.0,440.9 157.6,440.0 158.1,439.1 158.7,438.1 159.3,437.2 159.8,436.4 160.4,435.5 160.9,434.6 161.5,433.8 162.0,433.0 162.6,432.1 163.2,431.2 163.8,430.3 164.3,429.4 164.9,428.6 165.4,427.8 165.9,427.0 166.5,426.2 167.0,425.4 167.6,424.6 168.1,423.8 168.7,423.0 169.3,422.2 170.0,421.4 170.6,420.6 171.3,419.8 171.9,419.0 172.6,418.3 173.3,417.5 174.1,416.7 174.8,415.8 175.6,415.0 176.4,414.2 177.2,413.4 178.0,412.6 178.8,411.8 179.6,411.0 180.4,410.2 181.1,409.5 181.9,408.8 182.6,408.1 183.3,407.4 183.9,406.8 184.5,406.3 185.6,405.3 186.6,404.5 187.5,403.8 188.3,403.2 189.1,402.7 189.8,402.2 190.5,401.8 191.3,401.4 192.0,401.0 193.1,400.4 194.2,399.9 195.2,399.4 196.2,399.1 197.3,399.0 198.3,399.1 199.2,399.4 200.1,399.8 200.9,400.4 201.8,401.1 202.7,401.9 203.6,402.8 204.6,403.7 205.2,404.3 205.8,405.0 206.4,405.8 207.0,406.6 207.6,407.5 208.2,408.3 208.9,409.2 209.6,410.0 210.3,410.7 211.1,411.4 212.0,412.0 212.8,412.4 213.7,412.9 214.6,413.3 215.6,413.6 216.6,413.9 217.6,414.3 218.6,414.5 219.7,414.8 220.7,415.0 221.8,415.2 222.8,415.4 223.8,415.5 224.7,415.6 225.8,415.7 226.9,415.7 228.0,415.6 229.1,415.5 230.2,415.3 231.2,415.1 232.3,414.9 233.3,414.7 234.2,414.6 235.1,414.4 236.0,414.3 237.2,414.1 238.4,414.0 239.4,413.8 240.3,413.7 241.2,413.6 242.1,413.6 243.0,413.7 244.0,413.9 244.9,414.0 245.8,414.3 246.7,414.8 247.5,415.5 248.4,416.5 248.8,417.1 249.2,417.9 249.6,418.7 250.0,419.7 250.4,420.7 250.8,421.7 251.2,422.8 251.6,423.8 252.1,424.8 252.5,425.8 253.0,426.7 253.4,427.6 253.9,428.3 254.6,429.2 255.3,430.0 256.1,430.8 256.8,431.4 257.6,432.0 258.4,432.5 259.3,433.0 260.2,433.4 261.2,433.8 262.1,434.1 263.1,434.2 264.1,434.3 265.1,434.3 266.2,434.3 267.3,434.3 268.5,434.3 269.6,434.4 270.9,434.5 272.1,434.7 273.0,434.9 274.0,435.2 275.0,435.5 276.0,435.8 277.1,436.1 278.1,436.5 279.2,436.9 280.3,437.2 281.4,437.6 282.5,437.9 283.5,438.2 284.5,438.5 285.5,438.7 286.5,438.9 287.6,439.1 288.6,439.2 289.7,439.3 290.7,439.4 291.7,439.5 292.7,439.5 293.7,439.5 294.6,439.5 295.6,439.4 296.6,439.3 297.6,439.1 298.6,438.9 299.5,438.7 300.5,438.4 301.4,438.0 302.3,437.6 303.3,437.2 304.2,436.8 305.2,436.3 306.1,435.8 307.0,435.3 308.0,434.8 308.9,434.3 309.9,433.8 310.8,433.3 311.7,432.8 312.5,432.3 313.4,431.8 314.3,431.3 315.2,430.8 316.0,430.2 316.9,429.7 317.8,429.2 318.7,428.6 319.5,428.1 320.4,427.5 321.3,427.0 322.1,426.5 323.0,426.0 323.9,425.5 324.9,425.0 325.8,424.4 326.7,423.9 327.7,423.4 328.6,422.9 329.5,422.4 330.4,421.9 331.4,421.4 332.3,421.0 333.2,420.5 334.2,420.0 335.1,419.5 336.0,419.0 337.0,418.5 337.9,418.0 338.8,417.6 339.8,417.1 340.7,416.6 341.7,416.1 342.6,415.6 343.6,415.2 344.5,414.7 345.4,414.3 346.4,413.8 347.3,413.4 348.2,413.0 349.2,412.6 350.1,412.1 351.0,411.7 352.0,411.3 352.9,410.9 353.8,410.5 354.7,410.1 355.7,409.8 356.6,409.4 357.5,409.1 358.5,408.8 359.4,408.5 360.4,408.2 361.4,407.9 362.4,407.7 363.5,407.4 364.5,407.2 365.5,406.9 366.5,406.8 367.5,406.6 368.6,406.4 369.6,406.3 370.6,406.2 371.6,406.1 372.6,406.0 373.6,406.0 374.6,406.0 375.6,406.1 376.6,406.1 377.6,406.2 378.7,406.3 379.7,406.4 380.7,406.5 381.7,406.6 382.7,406.7 383.7,406.8 384.7,406.9 385.7,407.1 386.7,407.2 387.7,407.4 388.6,407.6 389.6,407.8 390.6,408.0 391.6,408.2 392.7,408.3 393.7,408.4 394.8,408.5 395.9,408.5 396.9,408.5 397.9,408.4 399.0,408.3 400.1,408.2 401.2,408.1 402.3,407.9 403.5,407.8 404.6,407.6 405.7,407.4 406.8,407.2 407.8,407.0 408.9,406.8 409.8,406.7 410.7,406.5 411.9,406.3 413.0,406.0 414.0,405.8 414.8,405.6 415.7,405.4 416.6,405.1 417.6,404.8 418.7,404.4 420.0,404.0 420.8,403.7 421.6,403.5 422.4,403.2 423.3,402.9 424.3,402.6 425.2,402.2 426.2,401.9 427.2,401.6 428.2,401.2 429.2,400.8 430.2,400.5 431.2,400.1 432.2,399.7 433.2,399.3 434.2,399.0 435.1,398.6 436.0,398.2 437.0,397.8 438.0,397.4 439.0,396.9 439.9,396.5 440.9,396.1 441.8,395.6 442.8,395.2 443.7,394.8 444.7,394.3 445.6,393.8 446.5,393.4 447.5,392.9 448.5,392.4 449.4,391.8 450.4,391.3 451.3,390.8 452.2,390.3 453.0,389.8 453.9,389.3 454.8,388.8 455.7,388.3 456.6,387.8 457.5,387.3 458.4,386.7 459.3,386.2 460.2,385.6 461.1,385.0 462.0,384.4 462.9,383.8 463.8,383.1 464.7,382.4 465.6,381.7 466.3,381.1 467.0,380.5 467.8,379.8 468.5,379.2 469.2,378.5 469.9,377.8 470.7,377.1 471.4,376.4 472.1,375.7 472.8,375.0 473.6,374.2 474.3,373.5 475.0,372.7 475.7,371.9 476.5,371.2 477.2,370.4 477.9,369.6 478.6,368.8 479.4,368.1 480.1,367.3 480.8,366.5 481.5,365.8 482.1,365.1 482.8,364.3 483.5,363.6 484.2,362.9 484.8,362.1 485.5,361.4 486.2,360.6 486.9,359.9 487.6,359.1 488.3,358.3 488.9,357.6 489.6,356.8 490.3,356.0 490.9,355.3 491.6,354.5 492.3,353.7 492.9,352.9 493.5,352.1 494.2,351.3 494.8,350.6 495.4,349.8 496.0,349.0 496.6,348.2 497.2,347.3 497.8,346.5 498.4,345.7 499.0,344.8 499.6,343.9 500.1,343.1 500.7,342.2 501.2,341.4 501.8,340.5 502.3,339.6 502.9,338.8 503.4,337.9 503.9,337.0 504.4,336.2 505.0,335.4 505.5,334.5 506.0,333.7 506.5,332.9 507.0,332.1 507.5,331.3 508.0,330.5 508.6,329.6 509.2,328.6 509.8,327.7 510.4,326.8 511.0,325.9 511.5,325.0 512.1,324.2 512.7,323.3 513.2,322.4 513.8,321.6 514.3,320.7 514.8,319.9 515.4,319.1 515.9,318.3 516.4,317.4 517.0,316.6 517.5,315.8 518.0,315.0 518.6,314.1 519.2,313.2 519.8,312.2 520.4,311.3 521.0,310.4 521.5,309.4 522.1,308.5 522.7,307.6 523.3,306.8 523.8,305.9 524.3,305.1 524.8,304.3 525.3,303.5 525.8,302.8 526.2,302.1 526.6,301.5 527.5,300.0 528.3,298.8 529.0,297.8 529.5,297.0 530.0,296.3 530.3,295.8" fill="none" stroke="#ff0000" stroke-width="11.3" stroke-linejoin="round" stroke-linecap="round"/>
<ellipse cx="93.3" cy="550.5" rx="1.6" ry="0.6" fill="#fff" transform="rotate(-20 93.3 550.5)"/>
<ellipse cx="96.1" cy="546.3" rx="1.6" ry="0.6" fill="#fff" transform="rotate(-20 96.1 546.3)"/>
<ellipse cx="98.8" cy="542.2" rx="1.6" ry="0.6" fill="#fff" transform="rotate(-20 98.8 542.2)"/>
<ellipse cx="101.6" cy="538.0" rx="1.6" ry="0.6" fill="#fff" transform="rotate(-20 101.6 538.0)"/>
<ellipse cx="104.4" cy="533.9" rx="1.6" ry="0.6" fill="#fff" transform="rotate(-20 104.4 533.9)"/>
<ellipse cx="107.1" cy="529.7" rx="1.6" ry="0.6" fill="#fff" transform="rotate(-20 107.1 529.7)"/>
<ellipse cx="109.7" cy="525.4" rx="1.6" ry="0.6" fill="#fff" transform="rotate(-20 109.7 525.4)"/>
<ellipse cx="112.2" cy="521.1" rx="1.6" ry="0.6" fill="#fff" transform="rotate(-20 112.2 521.1)"/>
<ellipse cx="114.8" cy="516.8" rx="1.6" ry="0.6" fill="#fff" transform="rotate(-20 114.8 516.8)"/>
<ellipse cx="117.3" cy="512.5" rx="1.6" ry="0.6" fill="#fff" transform="rotate(-20 117.3 512.5)"/>
<ellipse cx="119.8" cy="508.2" rx="1.6" ry="0.6" fill="#fff" transform="rotate(-20 119.8 508.2)"/>
<ellipse cx="122.4" cy="503.8" rx="1.6" ry="0.6" fill="#fff" transform="rotate(-20 122.4 503.8)"/>
<ellipse cx="124.9" cy="499.5" rx="1.6" ry="0.6" fill="#fff" transform="rotate(-20 124.9 499.5)"/>
<ellipse cx="127.3" cy="495.2" rx="1.6" ry="0.6" fill="#fff" transform="rotate(-20 127.3 495.2)"/>
<ellipse cx="129.8" cy="490.8" rx="1.6" ry="0.6" fill="#fff" transform="rotate(-20 129.8 490.8)"/>
<ellipse cx="132.2" cy="486.5" rx="1.6" ry="0.6" fill="#fff" transform="rotate(-20 132.2 486.5)"/>
<ellipse cx="134.6" cy="482.1" rx="1.6" ry="0.6" fill="#fff" transform="rotate(-20 134.6 482.1)"/>
<ellipse cx="137.0" cy="477.7" rx="1.6" ry="0.6" fill="#fff" transform="rotate(-20 137.0 477.7)"/>
<ellipse cx="139.4" cy="473.3" rx="1.6" ry="0.6" fill="#fff" transform="rotate(-20 139.4 473.3)"/>
<ellipse cx="141.8" cy="468.9" rx="1.6" ry="0.6" fill="#fff" transform="rotate(-20 141.8 468.9)"/>
<ellipse cx="144.2" cy="464.5" rx="1.6" ry="0.6" fill="#fff" transform="rotate(-20 144.2 464.5)"/>
<ellipse cx="146.5" cy="460.0" rx="1.6" ry="0.6" fill="#fff" transform="rotate(-20 146.5 460.0)"/>
<ellipse cx="148.7" cy="455.6" rx="1.6" ry="0.6" fill="#fff" transform="rotate(-20 148.7 455.6)"/>
<ellipse cx="151.0" cy="451.1" rx="1.6" ry="0.6" fill="#fff" transform="rotate(-20 151.0 451.1)"/>
<ellipse cx="153.5" cy="446.8" rx="1.6" ry="0.6" fill="#fff" transform="rotate(-20 153.5 446.8)"/>
<ellipse cx="156.0" cy="442.5" rx="1.6" ry="0.6" fill="#fff" transform="rotate(-20 156.0 442.5)"/>
<ellipse cx="158.7" cy="438.2" rx="1.6" ry="0.6" fill="#fff" transform="rotate(-20 158.7 438.2)"/>
<ellipse cx="161.3" cy="434.0" rx="1.6" ry="0.6" fill="#fff" transform="rotate(-20 161.3 434.0)"/>
<ellipse cx="164.1" cy="429.8" rx="1.6" ry="0.6" fill="#fff" transform="rotate(-20 164.1 429.8)"/>
<ellipse cx="166.8" cy="425.7" rx="1.6" ry="0.6" fill="#fff" transform="rotate(-20 166.8 425.7)"/>
<ellipse cx="169.8" cy="421.6" rx="1.6" ry="0.6" fill="#fff" transform="rotate(-20 169.8 421.6)"/>
<circle cx="491.1" cy="355.0" r="1.45" fill="#fff"/>
<circle cx="494.6" cy="350.9" r="1.45" fill="#fff"/>
<circle cx="497.8" cy="346.5" r="1.45" fill="#fff"/>
<circle cx="500.8" cy="342.1" r="1.45" fill="#fff"/>
<circle cx="503.7" cy="337.5" r="1.45" fill="#fff"/>
<circle cx="506.5" cy="332.9" r="1.45" fill="#fff"/>
<circle cx="509.4" cy="328.3" r="1.45" fill="#fff"/>
<circle cx="512.3" cy="323.8" r="1.45" fill="#fff"/>
<circle cx="515.3" cy="319.3" r="1.45" fill="#fff"/>
<circle cx="518.2" cy="314.7" r="1.45" fill="#fff"/>
<circle cx="521.1" cy="310.2" r="1.45" fill="#fff"/>
<circle cx="524.0" cy="305.6" r="1.45" fill="#fff"/>
<circle cx="526.9" cy="301.1" r="1.45" fill="#fff"/>
<circle cx="529.8" cy="296.5" r="1.45" fill="#fff"/>
<ellipse cx="530.3" cy="295.8" rx="4.2" ry="4.7" fill="#fff" stroke="#ff0000" stroke-width="1.5"/>
<polyline points="88.0,551.0 88.5,550.8 89.2,550.5 89.9,550.1 90.8,549.7 91.7,549.3 92.6,548.9 93.7,548.4 94.7,547.9 95.8,547.4 96.9,546.9 98.0,546.4 99.1,545.9 100.1,545.4 101.1,544.9 102.1,544.4 103.0,544.0 104.0,543.5 104.9,543.1 105.8,542.7 106.6,542.3 107.5,541.8 108.3,541.4 109.1,541.0 110.0,540.6 110.8,540.2 111.7,539.7 112.6,539.2 113.5,538.7 114.5,538.1 115.5,537.5 116.3,537.0 117.0,536.6 117.8,536.1 118.6,535.5 119.5,535.0 120.3,534.4 121.2,533.9 122.1,533.3 122.9,532.7 123.8,532.1 124.7,531.5 125.6,530.9 126.5,530.3 127.4,529.6 128.3,529.0 129.1,528.4 130.0,527.8 130.8,527.2 131.7,526.6 132.5,526.0 133.3,525.4 134.2,524.8 135.0,524.2 135.8,523.6 136.6,523.0 137.3,522.4 138.1,521.9 138.9,521.3 139.7,520.7 140.4,520.1 141.2,519.5 142.0,518.8 142.8,518.2 143.6,517.6 144.4,516.9 145.2,516.2 146.1,515.5 146.9,514.8 147.8,514.0 148.5,513.4 149.2,512.8 149.9,512.1 150.6,511.5 151.3,510.8 152.1,510.1 152.8,509.5 153.6,508.8 154.4,508.0 155.1,507.3 155.9,506.6 156.7,505.9 157.4,505.1 158.2,504.4 159.0,503.7 159.8,502.9 160.5,502.2 161.3,501.4 162.1,500.7 162.8,500.0 163.6,499.3 164.3,498.6 165.1,497.9 165.8,497.2 166.5,496.5 167.3,495.8 168.1,495.0 168.9,494.3 169.7,493.5 170.5,492.8 171.3,492.0 172.1,491.2 172.9,490.5 173.7,489.7 174.5,489.0 175.2,488.2 176.0,487.5 176.8,486.8 177.5,486.1 178.3,485.4 179.0,484.7 179.7,484.0 180.4,483.4 181.1,482.8 181.7,482.2 182.3,481.6 182.9,481.0 183.5,480.5 184.6,479.5 185.6,478.6 186.5,477.7 187.3,477.0 188.1,476.3 188.8,475.7 189.5,475.1 190.1,474.5 190.8,474.0 191.4,473.5 192.0,473.0 193.1,472.1 194.1,471.3 194.9,470.5 195.8,470.0 196.6,469.6 197.4,469.4 198.4,469.6 199.3,470.1 200.1,470.9 201.0,471.7 202.0,472.5 202.8,473.2 203.7,474.1 204.6,475.0 205.5,475.8 206.4,476.4 207.4,476.7 208.2,476.6 209.1,476.3 209.9,475.8 210.8,475.1 211.8,474.4 212.8,473.7 214.0,473.0 214.7,472.6 215.5,472.2 216.2,471.8 217.0,471.4 217.8,470.9 218.6,470.5 219.5,470.0 220.4,469.5 221.4,469.0 222.4,468.5 223.5,468.0 224.7,467.5 225.5,467.2 226.3,466.8 227.2,466.4 228.1,466.0 229.0,465.6 229.9,465.2 230.9,464.8 231.9,464.4 232.9,464.0 233.9,463.6 234.9,463.2 235.9,462.8 237.0,462.4 238.0,462.0 239.0,461.6 240.0,461.2 241.0,460.9 242.0,460.5 243.0,460.2 244.0,459.9 245.1,459.5 246.1,459.2 247.2,458.9 248.3,458.6 249.3,458.3 250.4,458.0 251.5,457.7 252.6,457.4 253.6,457.1 254.7,456.9 255.7,456.6 256.7,456.4 257.7,456.2 258.6,456.0 259.5,455.9 260.4,455.8 261.2,455.7 262.5,455.6 263.7,455.7 264.8,455.9 265.7,456.1 266.6,456.4 267.5,456.7 268.5,457.0 269.5,457.3 270.7,457.5 272.0,457.6 272.8,457.6 273.7,457.7 274.7,457.7 275.7,457.8 276.7,457.8 277.8,457.8 278.9,457.8 280.0,457.9 281.1,457.9 282.2,457.9 283.3,457.8 284.4,457.8 285.5,457.8 286.5,457.7 287.5,457.7 288.4,457.6 289.2,457.5 290.0,457.4 291.3,457.1 292.5,456.7 293.4,456.3 294.3,455.8 295.0,455.3 295.8,454.7 296.6,454.3 297.5,453.8 298.6,453.5 299.5,453.3 300.4,453.1 301.4,453.0 302.4,452.8 303.4,452.7 304.5,452.6 305.5,452.5 306.6,452.4 307.7,452.4 308.7,452.3 309.8,452.3 310.8,452.3 311.8,452.3 312.7,452.3 313.6,452.4 314.4,452.5 315.3,452.6 316.1,452.7 317.1,452.8 318.0,452.9 319.1,453.1 320.3,453.2 321.6,453.4 323.0,453.5 323.8,453.6 324.6,453.7 325.5,453.8 326.5,453.8 327.5,453.9 328.5,454.0 329.6,454.2 330.7,454.3 331.8,454.4 332.9,454.5 334.0,454.6 335.2,454.7 336.3,454.8 337.4,454.9 338.5,455.0 339.7,455.2 340.7,455.3 341.8,455.4 342.8,455.5 343.8,455.6 344.8,455.7 345.7,455.7 346.5,455.8 347.3,455.9 348.7,456.0 350.0,456.2 351.2,456.3 352.2,456.4 353.2,456.5 354.1,456.6 355.0,456.7 355.8,456.8 356.7,456.8 357.5,456.9 358.4,456.9 359.4,456.9 360.4,456.9 361.4,456.9 362.4,456.8 363.5,456.7 364.5,456.7 365.5,456.6 366.5,456.5 367.5,456.4 368.6,456.3 369.6,456.1 370.6,456.0 371.6,455.9 372.6,455.8 373.6,455.6 374.6,455.5 375.6,455.3 376.6,455.2 377.6,455.0 378.7,454.8 379.7,454.7 380.7,454.5 381.7,454.3 382.7,454.2 383.7,454.0 384.7,453.8 385.7,453.7 386.7,453.5 387.7,453.4 388.7,453.3 389.7,453.1 390.7,453.0 391.7,452.8 392.7,452.7 393.8,452.6 394.8,452.4 395.9,452.3 396.8,452.2 397.7,452.1 398.6,452.1 399.5,452.0 400.4,451.9 401.3,451.9 402.2,451.8 403.1,451.8 404.1,451.7 405.2,451.6 406.3,451.5 407.4,451.4 408.7,451.3 410.0,451.1 410.8,451.0 411.7,450.9 412.5,450.8 413.5,450.6 414.4,450.5 415.4,450.4 416.3,450.2 417.3,450.1 418.4,449.9 419.4,449.8 420.5,449.6 421.5,449.5 422.6,449.3 423.7,449.1 424.7,449.0 425.8,448.8 426.9,448.6 428.0,448.5 429.1,448.3 430.1,448.1 431.2,447.9 432.2,447.8 433.3,447.6 434.3,447.4 435.3,447.2 436.3,447.0 437.3,446.9 438.4,446.7 439.4,446.5 440.4,446.4 441.4,446.2 442.5,446.0 443.5,445.8 444.5,445.7 445.5,445.5 446.5,445.3 447.6,445.1 448.6,444.9 449.6,444.7 450.6,444.5 451.6,444.3 452.6,444.1 453.6,443.9 454.6,443.6 455.6,443.4 456.6,443.1 457.6,442.9 458.6,442.6 459.6,442.3 460.6,442.0 461.5,441.7 462.5,441.4 463.5,441.1 464.4,440.7 465.4,440.4 466.3,440.1 467.3,439.7 468.2,439.3 469.2,439.0 470.1,438.6 471.1,438.2 472.0,437.9 473.0,437.5 473.9,437.1 474.9,436.7 475.8,436.4 476.8,436.0 477.7,435.6 478.7,435.3 479.6,434.9 480.5,434.5 481.5,434.2 482.5,433.9 483.4,433.5 484.3,433.2 485.3,432.9 486.2,432.5 487.2,432.2 488.1,431.9 489.1,431.6 490.0,431.2 490.9,430.9 491.9,430.6 492.8,430.3 493.8,430.0 494.7,429.6 495.6,429.3 496.6,429.0 497.5,428.6 498.5,428.3 499.5,427.9 500.4,427.5 501.4,427.2 502.3,426.8 503.3,426.4 504.3,426.0 505.2,425.6 506.1,425.2 507.0,424.8 508.0,424.4 508.9,424.0 509.8,423.6 510.7,423.2 511.7,422.7 512.6,422.3 513.5,421.9 514.5,421.4 515.4,421.0 516.4,420.5 517.3,420.1 518.2,419.6 519.2,419.2 520.1,418.7 521.1,418.3 522.0,417.8 523.0,417.4 523.9,416.9 524.8,416.5 525.8,416.0 526.7,415.6 527.7,415.1 528.6,414.7 529.5,414.3 530.5,413.8 531.4,413.4 532.3,413.0 533.3,412.6 534.2,412.2 535.2,411.7 536.1,411.3 537.0,410.9 538.0,410.5 538.9,410.1 539.9,409.7 540.8,409.2 541.7,408.8 542.7,408.4 543.6,408.0 544.6,407.6 545.5,407.2 546.4,406.7 547.4,406.3 548.3,405.9 549.3,405.4 550.2,405.0 551.1,404.6 552.1,404.1 553.0,403.7 553.9,403.3 554.8,402.8 555.7,402.4 556.6,402.0 557.5,401.5 558.4,401.1 559.3,400.7 560.2,400.2 561.1,399.8 562.0,399.4 562.9,398.9 563.8,398.5 564.7,398.0 565.6,397.6 566.5,397.1 567.4,396.7 568.3,396.2 569.2,395.8 570.1,395.3 571.0,394.9 571.9,394.4 572.8,393.9 573.7,393.5 574.6,393.0 575.5,392.5 576.4,392.1 577.3,391.6 578.2,391.1 579.1,390.6 580.1,390.1 581.1,389.6 582.0,389.1 583.0,388.6 584.0,388.0 585.0,387.5 586.0,386.9 587.0,386.4 588.0,385.8 589.0,385.3 590.0,384.8 591.0,384.2 592.0,383.7 592.9,383.2 593.8,382.6 594.8,382.1 595.6,381.6 596.5,381.1 597.3,380.7 598.1,380.2 598.9,379.8 599.6,379.3 600.3,378.9 601.0,378.6 601.6,378.2 603.2,377.2 604.5,376.4 605.6,375.6 606.4,375.0 607.1,374.4 607.6,373.9 608.1,373.5 608.5,373.1 608.9,372.8" fill="none" stroke="#0000ff" stroke-width="11.8" stroke-linejoin="round" stroke-linecap="round"/>
<circle cx="147.5" cy="515" r="0.9" fill="#fff"/><circle cx="158.8" cy="504.3" r="0.9" fill="#fff"/>
<ellipse cx="608.9" cy="372.8" rx="4.2" ry="4.7" fill="#fff" stroke="#0000ff" stroke-width="1.5"/>
<polyline points="88.0,551.0 88.6,550.9 89.2,550.7 89.9,550.5 90.8,550.3 91.6,550.0 92.6,549.8 93.6,549.5 94.7,549.2 95.8,548.9 96.9,548.6 98.1,548.3 99.2,548.0 100.4,547.7 101.6,547.3 102.8,547.0 103.9,546.7 105.0,546.4 106.1,546.1 107.2,545.8 108.2,545.5 109.1,545.3 110.0,545.0 111.2,544.7 112.3,544.3 113.4,544.0 114.5,543.7 115.5,543.4 116.5,543.1 117.4,542.8 118.3,542.5 119.3,542.2 120.2,541.9 121.1,541.6 122.0,541.3 123.0,541.0 124.0,540.6 125.0,540.3 126.0,540.0 126.9,539.6 127.9,539.3 128.9,538.9 129.9,538.6 130.9,538.2 131.9,537.9 132.9,537.5 133.9,537.1 134.9,536.8 135.9,536.4 136.9,536.0 137.9,535.7 138.9,535.3 140.0,535.0 141.0,534.6 142.0,534.3 143.0,533.9 143.9,533.6 144.9,533.2 145.9,532.9 146.9,532.5 147.9,532.2 148.9,531.8 149.9,531.5 151.0,531.1 152.0,530.8 153.0,530.5 154.0,530.2 155.0,529.9 156.0,529.6 157.0,529.3 158.0,529.0 159.0,528.7 160.1,528.5 161.1,528.2 162.2,528.0 163.3,527.7 164.3,527.5 165.4,527.3 166.5,527.1 167.6,526.9 168.6,526.7 169.6,526.5 170.6,526.3 171.6,526.1 172.5,526.0 173.4,525.8 174.2,525.7 175.0,525.6 176.5,525.4 177.7,525.3 178.8,525.2 179.8,525.2 180.7,525.2 181.6,525.2 182.5,525.2 183.5,525.3 184.5,525.4 185.4,525.5 186.3,525.6 187.2,525.7 188.2,525.9 189.3,526.1 190.5,526.3 192.0,526.5 192.8,526.6 193.6,526.7 194.5,526.9 195.4,527.0 196.4,527.2 197.4,527.4 198.4,527.5 199.4,527.7 200.5,527.9 201.6,528.0 202.7,528.2 203.7,528.3 204.8,528.5 205.9,528.6 206.9,528.8 208.0,528.9 209.0,529.0 210.0,529.1 210.9,529.2 211.9,529.3 212.8,529.3 213.7,529.4 214.7,529.5 215.6,529.5 216.5,529.6 217.4,529.6 218.4,529.7 219.4,529.7 220.4,529.8 221.4,529.8 222.5,529.8 223.6,529.8 224.8,529.9 226.0,529.9 226.9,529.9 227.7,529.9 228.6,530.0 229.5,530.0 230.4,530.0 231.4,530.0 232.3,530.1 233.3,530.1 234.2,530.1 235.2,530.1 236.2,530.1 237.2,530.2 238.3,530.2 239.3,530.2 240.3,530.2 241.4,530.2 242.5,530.2 243.6,530.2 244.7,530.1 245.8,530.1 246.9,530.1 248.1,530.1 249.2,530.0 250.4,530.0 251.6,529.9 252.5,529.8 253.4,529.8 254.3,529.7 255.3,529.7 256.2,529.6 257.2,529.5 258.2,529.4 259.2,529.3 260.2,529.2 261.2,529.1 262.3,529.0 263.3,528.9 264.4,528.8 265.4,528.7 266.5,528.6 267.6,528.5 268.6,528.4 269.7,528.2 270.7,528.1 271.8,528.0 272.8,527.9 273.9,527.8 274.9,527.7 276.0,527.5 277.0,527.4 278.0,527.3 279.0,527.2 280.0,527.1 281.0,527.0 281.9,526.9 282.9,526.8 283.8,526.8 284.7,526.7 285.6,526.6 286.8,526.5 287.9,526.4 289.0,526.3 290.1,526.2 291.2,526.2 292.2,526.1 293.2,526.0 294.2,526.0 295.2,525.9 296.2,525.8 297.2,525.8 298.1,525.7 299.1,525.7 300.0,525.6 301.0,525.5 301.9,525.5 302.9,525.4 303.9,525.4 304.8,525.3 305.8,525.3 306.8,525.2 307.8,525.2 308.9,525.1 309.9,525.1 311.0,525.0 311.9,524.9 312.9,524.9 313.8,524.8 314.8,524.8 315.8,524.7 316.7,524.7 317.7,524.6 318.7,524.6 319.6,524.6 320.6,524.5 321.6,524.5 322.6,524.4 323.6,524.4 324.6,524.3 325.6,524.3 326.6,524.2 327.6,524.2 328.6,524.1 329.7,524.1 330.7,524.0 331.7,524.0 332.7,523.9 333.8,523.9 334.8,523.8 335.8,523.8 336.9,523.7 337.9,523.7 339.0,523.6 340.0,523.6 341.0,523.6 342.0,523.5 343.0,523.5 344.0,523.4 345.0,523.4 346.1,523.3 347.1,523.3 348.2,523.2 349.2,523.2 350.3,523.1 351.3,523.1 352.4,523.1 353.4,523.0 354.5,523.0 355.6,522.9 356.6,522.9 357.7,522.8 358.7,522.8 359.8,522.7 360.8,522.7 361.9,522.7 362.9,522.6 363.9,522.6 364.9,522.5 365.9,522.5 366.9,522.4 367.9,522.4 368.8,522.3 369.8,522.3 370.7,522.2 371.6,522.2 372.8,522.1 373.9,522.1 375.1,522.0 376.2,522.0 377.3,521.9 378.4,521.8 379.5,521.8 380.6,521.7 381.7,521.6 382.8,521.6 383.8,521.5 384.8,521.5 385.9,521.4 386.9,521.3 387.9,521.3 388.8,521.2 389.8,521.2 390.7,521.1 391.6,521.1 392.5,521.0 393.4,520.9 394.3,520.9 395.1,520.8 395.9,520.8 397.2,520.7 398.4,520.7 399.4,520.6 400.4,520.6 401.3,520.6 402.1,520.6 402.9,520.5 403.8,520.5 404.6,520.5 405.5,520.4 406.5,520.4 407.5,520.3 408.7,520.1 410.0,520.0 410.8,519.9 411.7,519.8 412.5,519.7 413.5,519.6 414.4,519.4 415.4,519.3 416.3,519.1 417.3,519.0 418.4,518.8 419.4,518.7 420.5,518.5 421.5,518.3 422.6,518.2 423.7,518.0 424.7,517.8 425.8,517.7 426.9,517.5 428.0,517.3 429.1,517.1 430.1,517.0 431.2,516.8 432.2,516.6 433.3,516.5 434.3,516.3 435.3,516.1 436.3,516.0 437.3,515.8 438.3,515.6 439.4,515.5 440.4,515.3 441.4,515.1 442.4,515.0 443.4,514.8 444.4,514.6 445.4,514.5 446.4,514.3 447.5,514.1 448.5,514.0 449.5,513.8 450.5,513.6 451.5,513.5 452.5,513.3 453.5,513.2 454.5,513.0 455.6,512.8 456.6,512.7 457.6,512.5 458.6,512.4 459.6,512.3 460.7,512.1 461.7,512.0 462.7,511.8 463.8,511.7 464.9,511.6 465.9,511.4 467.0,511.3 468.1,511.2 469.1,511.0 470.2,510.9 471.3,510.8 472.3,510.6 473.4,510.5 474.4,510.4 475.4,510.3 476.4,510.2 477.4,510.1 478.4,510.0 479.4,509.9 480.3,509.8 481.2,509.7 482.1,509.6 483.0,509.5 484.2,509.4 485.4,509.3 486.5,509.2 487.6,509.2 488.7,509.1 489.7,509.1 490.8,509.0 491.8,509.0 492.8,509.0 493.7,509.0 494.7,508.9 495.6,508.9 496.5,508.9 497.4,508.8 498.3,508.7 499.1,508.7 500.0,508.6 501.2,508.5 502.3,508.3 503.4,508.2 504.4,508.1 505.4,507.9 506.4,507.8 507.4,507.6 508.3,507.4 509.3,507.2 510.2,507.0 511.2,506.8 512.2,506.5 513.2,506.2 514.2,505.9 515.2,505.5 516.2,505.2 517.2,504.8 518.3,504.4 519.3,504.0 520.3,503.5 521.3,503.1 522.3,502.7 523.3,502.2 524.3,501.8 525.2,501.4 526.2,501.0 527.1,500.6 528.0,500.1 529.0,499.7 529.9,499.3 530.9,498.8 531.8,498.4 532.8,497.9 533.7,497.5 534.6,497.0 535.6,496.6 536.5,496.1 537.4,495.6 538.4,495.1 539.4,494.6 540.4,494.1 541.4,493.6 542.4,493.1 543.3,492.5 544.3,492.0 545.2,491.5 546.1,491.1 547.0,490.6 547.8,490.2 548.6,489.8 549.8,489.2 550.9,488.7 551.9,488.3 552.8,487.9 553.7,487.5 554.5,487.2 555.3,486.9 556.0,486.6 557.3,486.1 558.5,485.8 559.4,485.5 560.0,485.3" fill="none" stroke="#008a00" stroke-width="11.8" stroke-linejoin="round" stroke-linecap="round"/>
<path d="M557.0 484.8L562.0 479.4L567.0 484.8L562.0 490.2Z" fill="#fff" stroke="#008a00" stroke-width="1.5" stroke-linejoin="round"/>
<polyline points="90.0,548.6 90.6,548.6 91.3,548.5 92.2,548.5 93.2,548.4 94.2,548.3 95.4,548.2 96.5,548.2 97.7,548.0 98.9,547.9 100.0,547.8 100.9,547.7 101.9,547.5 102.9,547.4 103.9,547.3 104.9,547.1 105.9,546.9 106.9,546.8 107.9,546.6 109.0,546.4 110.0,546.2 111.0,546.0 112.0,545.8 113.0,545.6 114.0,545.3 115.1,545.1 116.1,544.8 117.2,544.5 118.2,544.3 119.2,544.0 120.2,543.7 121.2,543.4 122.2,543.2 123.1,542.9 124.0,542.7 125.1,542.4 126.0,542.2 126.8,542.0 127.5,541.7 128.3,541.5 129.2,541.3 130.2,541.0 131.5,540.7 133.0,540.4 133.8,540.2 134.6,540.1 135.4,539.9 136.3,539.7 137.3,539.5 138.3,539.2 139.3,539.0 140.3,538.8 141.4,538.6 142.5,538.3 143.6,538.1 144.7,537.9 145.8,537.6 146.9,537.4 148.1,537.2 149.2,537.0 150.3,536.7 151.4,536.5 152.4,536.3 153.5,536.2 154.5,536.0 155.6,535.8 156.6,535.7 157.7,535.5 158.7,535.4 159.8,535.2 160.8,535.1 161.9,534.9 162.9,534.8 164.0,534.7 165.0,534.6 166.1,534.5 167.1,534.3 168.1,534.2 169.1,534.1 170.1,534.0 171.1,533.9 172.1,533.8 173.1,533.8 174.1,533.7 175.0,533.6 176.1,533.5 177.1,533.5 178.0,533.4 178.9,533.4 179.7,533.3 180.6,533.3 181.4,533.3 182.2,533.3 183.1,533.2 184.0,533.2 184.9,533.2 185.9,533.2 186.9,533.2 188.0,533.1 189.2,533.1 190.6,533.0 192.0,532.9 192.8,532.9 193.6,532.8 194.4,532.7 195.3,532.7 196.2,532.6 197.1,532.5 198.1,532.5 199.0,532.4 200.0,532.3 201.1,532.2 202.1,532.2 203.1,532.1 204.2,532.0 205.3,531.9 206.4,531.8 207.5,531.7 208.6,531.6 209.7,531.5 210.8,531.5 211.9,531.4 213.0,531.3 214.1,531.2 215.1,531.1 216.2,531.0 217.3,531.0 218.3,530.9 219.4,530.8 220.4,530.7 221.4,530.7 222.4,530.6 223.3,530.5 224.2,530.5 225.1,530.4 226.0,530.4 227.2,530.3 228.3,530.3 229.5,530.3 230.6,530.3 231.6,530.2 232.7,530.2 233.7,530.2 234.7,530.2 235.7,530.2 236.7,530.3 237.7,530.3 238.6,530.3 239.5,530.3 240.5,530.3 241.4,530.3 242.3,530.3 243.3,530.3 244.2,530.3 245.2,530.3 246.1,530.2 247.1,530.2 248.0,530.1 249.0,530.1 250.0,530.0 251.0,529.9 252.0,529.8 253.0,529.7 254.0,529.6 255.0,529.4 256.1,529.3 257.1,529.1 258.1,529.0 259.1,528.8 260.1,528.6 261.1,528.5 262.1,528.3 263.1,528.1 264.2,527.9 265.2,527.8 266.2,527.6 267.2,527.4 268.2,527.2 269.2,527.0 270.2,526.9 271.3,526.7 272.3,526.5 273.3,526.4 274.3,526.2 275.3,526.0 276.3,525.9 277.3,525.7 278.3,525.6 279.4,525.4 280.4,525.3 281.4,525.1 282.4,525.0 283.4,524.8 284.4,524.7 285.4,524.5 286.4,524.4 287.5,524.3 288.5,524.1 289.5,524.0 290.5,523.8 291.5,523.7 292.5,523.5 293.5,523.4 294.5,523.2 295.6,523.1 296.6,522.9 297.6,522.8 298.6,522.6 299.6,522.4 300.6,522.3 301.6,522.1 302.7,522.0 303.7,521.8 304.7,521.6 305.7,521.5 306.7,521.3 307.7,521.1 308.8,521.0 309.8,520.8 310.8,520.6 311.8,520.5 312.8,520.3 313.9,520.1 314.9,520.0 315.9,519.8 316.9,519.7 317.9,519.5 318.9,519.4 320.0,519.2 321.0,519.1 322.0,518.9 323.0,518.8 324.0,518.7 325.0,518.6 326.0,518.4 327.1,518.3 328.1,518.2 329.1,518.1 330.1,518.0 331.1,517.9 332.1,517.8 333.1,517.8 334.1,517.7 335.2,517.6 336.2,517.5 337.2,517.4 338.2,517.3 339.2,517.2 340.2,517.1 341.2,517.0 342.2,516.9 343.3,516.8 344.3,516.7 345.3,516.6 346.3,516.5 347.3,516.4 348.3,516.3 349.3,516.2 350.3,516.0 351.4,515.9 352.4,515.8 353.4,515.7 354.4,515.5 355.4,515.4 356.4,515.3 357.4,515.1 358.4,515.0 359.5,514.9 360.5,514.7 361.5,514.6 362.5,514.4 363.5,514.3 364.5,514.1 365.5,514.0 366.5,513.8 367.6,513.7 368.6,513.5 369.6,513.3 370.6,513.2 371.6,513.0 372.6,512.8 373.7,512.6 374.7,512.4 375.8,512.3 376.8,512.0 377.9,511.8 379.0,511.6 380.1,511.4 381.2,511.2 382.2,511.0 383.3,510.7 384.4,510.5 385.4,510.3 386.5,510.1 387.5,509.9 388.6,509.7 389.6,509.5 390.5,509.2 391.5,509.1 392.4,508.9 393.4,508.7 394.2,508.5 395.1,508.4 395.9,508.2 397.2,508.0 398.4,507.8 399.4,507.6 400.4,507.4 401.3,507.3 402.1,507.1 402.9,507.0 403.8,506.9 404.6,506.8 405.5,506.6 406.5,506.5 407.5,506.4 408.7,506.2 410.0,506.0 410.8,505.9 411.7,505.7 412.6,505.6 413.6,505.5 414.6,505.3 415.6,505.2 416.7,505.0 417.8,504.8 418.9,504.7 420.0,504.5 421.1,504.4 422.3,504.2 423.4,504.0 424.5,503.9 425.6,503.7 426.7,503.6 427.8,503.4 428.8,503.3 429.9,503.1 430.8,503.0 431.8,502.9 432.7,502.8 433.5,502.7 434.3,502.6 435.7,502.5 437.0,502.3 438.2,502.3 439.3,502.2 440.2,502.1 441.2,502.1 442.0,502.1 442.9,502.1 443.7,502.1 444.6,502.1 445.5,502.1 446.5,502.1 447.5,502.1 448.5,502.1 449.5,502.1 450.5,502.1 451.5,502.1 452.5,502.2 453.6,502.2 454.6,502.2 455.6,502.3 456.6,502.3 457.6,502.4 458.6,502.4 459.6,502.5 460.6,502.5 461.6,502.6 462.7,502.7 463.7,502.7 464.7,502.8 465.7,502.9 466.7,503.0 467.7,503.0 468.8,503.1 469.8,503.2 470.8,503.2 471.8,503.2 472.8,503.3 473.8,503.3 474.8,503.3 475.8,503.4 476.8,503.4 477.8,503.4 478.8,503.4 479.8,503.4 480.8,503.4 481.9,503.3 483.0,503.3 484.0,503.3 485.1,503.2 486.2,503.1 487.4,503.0 488.6,503.0 489.8,502.9 491.0,502.8 492.2,502.7 493.3,502.6 494.3,502.5 495.3,502.4 496.2,502.3 496.9,502.2 497.5,502.2" fill="none" stroke="#800080" stroke-width="11.4" stroke-linejoin="round" stroke-linecap="round"/>
<ellipse cx="497.5" cy="502.2" rx="4.0" ry="4.5" fill="#fff" stroke="#800080" stroke-width="1.5"/>
</g>
<path d="M253.8 2.7H262.9V39.5L279.7 18.2L258.4 69L237 18.2L253.8 39.5Z" fill="#111"/>
<rect x="622.9" y="338.9" width="132.2" height="209.8" fill="#fff" stroke="#111" stroke-width="1.7"/>
<line x1="625.3" y1="364.4" x2="672.7" y2="364.4" stroke="#111" stroke-width="2.0" />
<path d="M646.2 364.4L649.4 360.0L652.6 364.4L649.4 368.8Z" fill="#fff" stroke="#111" stroke-width="1.6" stroke-linejoin="round"/>
<text x="684.0" y="374.0" font-size="28.5" text-anchor="start" font-weight="normal" >0%</text>
<line x1="623.5" y1="406.2" x2="672.7" y2="406.2" stroke="#ff2020" stroke-width="2.0" />
<ellipse cx="649.4" cy="406.2" rx="3.4" ry="4.0" fill="#fff" stroke="#ff0000" stroke-width="1.9"/>
<text x="684.0" y="415.9" font-size="28.5" text-anchor="start" font-weight="normal" >10%</text>
<line x1="625.3" y1="448.1" x2="672.7" y2="448.1" stroke="#2020ff" stroke-width="2.0" />
<ellipse cx="649.4" cy="448.1" rx="3.4" ry="4.0" fill="#fff" stroke="#0000ff" stroke-width="1.9"/>
<text x="684.0" y="457.7" font-size="28.5" text-anchor="start" font-weight="normal" >20%</text>
<line x1="625.3" y1="489.9" x2="672.7" y2="489.9" stroke="#10d810" stroke-width="2.0" />
<ellipse cx="649.4" cy="489.9" rx="3.4" ry="4.0" fill="#fff" stroke="#008a00" stroke-width="1.9"/>
<text x="684.0" y="499.6" font-size="28.5" text-anchor="start" font-weight="normal" >50%</text>
<line x1="625.3" y1="531.8" x2="672.7" y2="531.8" stroke="#800080" stroke-width="2.0" />
<ellipse cx="649.4" cy="531.8" rx="3.4" ry="4.0" fill="#fff" stroke="#800080" stroke-width="1.9"/>
<text x="684.0" y="541.4" font-size="28.5" text-anchor="start" font-weight="normal" >80%</text>
<text transform="translate(-0.4 31) scale(0.87 1)" font-size="43.8" font-weight="bold" style="stroke-width:0.7px">a</text>
<text transform="translate(24.3 301.5) rotate(-90)" font-size="33" text-anchor="middle" textLength="138.8" lengthAdjust="spacingAndGlyphs">Force (N)</text>
<text x="379.2" y="650.2" font-size="33" text-anchor="middle" textLength="288.6" lengthAdjust="spacingAndGlyphs">Displacement (mm)</text>
</g>
<g id="panel-b">
<line x1="934.2" y1="50.1" x2="934.2" y2="556.8" stroke="#111" stroke-width="2" />
<line x1="925.2" y1="555.8" x2="1504.1" y2="555.8" stroke="#111" stroke-width="2" />
<text x="912.7" y="567.0" font-size="33" text-anchor="end" font-weight="normal" >0</text>
<line x1="929.2" y1="517.0" x2="934.2" y2="517.0" stroke="#111" stroke-width="2" />
<line x1="925.2" y1="478.2" x2="934.2" y2="478.2" stroke="#111" stroke-width="2" />
<text x="912.7" y="489.4" font-size="33" text-anchor="end" font-weight="normal" >20</text>
<line x1="929.2" y1="439.3" x2="934.2" y2="439.3" stroke="#111" stroke-width="2" />
<line x1="925.2" y1="400.5" x2="934.2" y2="400.5" stroke="#111" stroke-width="2" />
<text x="912.7" y="411.7" font-size="33" text-anchor="end" font-weight="normal" >40</text>
<line x1="929.2" y1="361.7" x2="934.2" y2="361.7" stroke="#111" stroke-width="2" />
<line x1="925.2" y1="322.9" x2="934.2" y2="322.9" stroke="#111" stroke-width="2" />
<text x="912.7" y="334.1" font-size="33" text-anchor="end" font-weight="normal" >60</text>
<line x1="929.2" y1="284.1" x2="934.2" y2="284.1" stroke="#111" stroke-width="2" />
<line x1="925.2" y1="245.2" x2="934.2" y2="245.2" stroke="#111" stroke-width="2" />
<text x="912.7" y="256.4" font-size="33" text-anchor="end" font-weight="normal" >80</text>
<line x1="929.2" y1="206.4" x2="934.2" y2="206.4" stroke="#111" stroke-width="2" />
<line x1="925.2" y1="167.6" x2="934.2" y2="167.6" stroke="#111" stroke-width="2" />
<text x="912.7" y="178.8" font-size="33" text-anchor="end" font-weight="normal" >100</text>
<line x1="929.2" y1="128.8" x2="934.2" y2="128.8" stroke="#111" stroke-width="2" />
<line x1="925.2" y1="90.0" x2="934.2" y2="90.0" stroke="#111" stroke-width="2" />
<text x="912.7" y="101.2" font-size="33" text-anchor="end" font-weight="normal" >120</text>
<line x1="929.2" y1="51.1" x2="934.2" y2="51.1" stroke="#111" stroke-width="2" />
<line x1="959.6" y1="555.8" x2="959.6" y2="565.8" stroke="#111" stroke-width="2" />
<text x="959.1" y="601.3" font-size="33" text-anchor="middle" font-weight="normal" >0</text>
<line x1="1014.0" y1="555.8" x2="1014.0" y2="562.3" stroke="#111" stroke-width="2" />
<line x1="1068.3" y1="555.8" x2="1068.3" y2="565.8" stroke="#111" stroke-width="2" />
<text x="1067.8" y="601.3" font-size="33" text-anchor="middle" font-weight="normal" >20</text>
<line x1="1122.7" y1="555.8" x2="1122.7" y2="562.3" stroke="#111" stroke-width="2" />
<line x1="1177.0" y1="555.8" x2="1177.0" y2="565.8" stroke="#111" stroke-width="2" />
<text x="1176.5" y="601.3" font-size="33" text-anchor="middle" font-weight="normal" >40</text>
<line x1="1231.3" y1="555.8" x2="1231.3" y2="562.3" stroke="#111" stroke-width="2" />
<line x1="1285.7" y1="555.8" x2="1285.7" y2="565.8" stroke="#111" stroke-width="2" />
<text x="1285.2" y="601.3" font-size="33" text-anchor="middle" font-weight="normal" >60</text>
<line x1="1340.0" y1="555.8" x2="1340.0" y2="562.3" stroke="#111" stroke-width="2" />
<line x1="1394.4" y1="555.8" x2="1394.4" y2="565.8" stroke="#111" stroke-width="2" />
<text x="1393.9" y="601.3" font-size="33" text-anchor="middle" font-weight="normal" >80</text>
<line x1="1448.8" y1="555.8" x2="1448.8" y2="562.3" stroke="#111" stroke-width="2" />
<line x1="1503.1" y1="555.8" x2="1503.1" y2="565.8" stroke="#111" stroke-width="2" />
<text x="1502.6" y="601.3" font-size="33" text-anchor="middle" font-weight="normal" >100</text>
<polyline points="959.6,163.7 962.3,174.5 965.0,185.0 967.8,195.1 970.5,204.9 973.2,214.3 975.9,223.4 978.6,232.2 981.3,240.7 984.1,249.0 986.8,256.9 989.5,264.6 992.2,272.0 994.9,279.1 997.6,286.1 1000.4,292.7 1003.1,299.2 1005.8,305.4 1008.5,311.5 1011.2,317.3 1014.0,322.9 1016.7,328.3 1019.4,333.6 1022.1,338.7 1024.8,343.6 1027.5,348.3 1030.3,352.9 1033.0,357.3 1035.7,361.5 1038.4,365.7 1041.1,369.7 1043.8,373.5 1046.6,377.2 1049.3,380.8 1052.0,384.3 1054.7,387.6 1057.4,390.9 1060.1,394.0 1062.9,397.0 1065.6,400.0 1068.3,402.8 1071.0,405.5 1073.7,408.1 1076.5,410.7 1079.2,413.1 1081.9,415.5 1084.6,417.8 1087.3,420.0 1090.0,422.2 1092.8,424.2 1095.5,426.2 1098.2,428.2 1100.9,430.0 1103.6,431.8 1106.3,433.6 1109.1,435.3 1111.8,436.9 1114.5,438.5 1117.2,440.0 1119.9,441.4 1122.7,442.8 1125.4,444.2 1128.1,445.5 1130.8,446.8 1133.5,448.0 1136.2,449.2 1139.0,450.4 1141.7,451.5 1144.4,452.6 1147.1,453.6 1149.8,454.6 1152.5,455.6 1155.3,456.5 1158.0,457.4 1160.7,458.3 1163.4,459.1 1166.1,460.0 1168.8,460.8 1171.6,461.5 1174.3,462.2 1177.0,463.0 1179.7,463.6 1182.4,464.3 1185.2,464.9 1187.9,465.6 1190.6,466.2 1193.3,466.7 1196.0,467.3 1198.7,467.8 1201.5,468.4 1204.2,468.9 1206.9,469.3 1209.6,469.8 1212.3,470.3 1215.0,470.7 1217.8,471.1 1220.5,471.5 1223.2,471.9 1225.9,472.3 1228.6,472.7 1231.3,473.0 1234.1,473.4 1236.8,473.7 1239.5,474.0 1242.2,474.4 1244.9,474.7 1247.7,474.9 1250.4,475.2 1253.1,475.5 1255.8,475.8 1258.5,476.0 1261.2,476.3 1264.0,476.5 1266.7,476.7 1269.4,476.9 1272.1,477.1 1274.8,477.4 1277.5,477.6 1280.3,477.7 1283.0,477.9 1285.7,478.1 1288.4,478.3 1291.1,478.4 1293.9,478.6 1296.6,478.8 1299.3,478.9 1302.0,479.1 1304.7,479.2 1307.4,479.3 1310.2,479.5 1312.9,479.6 1315.6,479.7 1318.3,479.8 1321.0,480.0 1323.7,480.1 1326.5,480.2 1329.2,480.3 1331.9,480.4 1334.6,480.5 1337.3,480.6 1340.0,480.6 1342.8,480.7 1345.5,480.8 1348.2,480.9 1350.9,481.0 1353.6,481.1 1356.4,481.1 1359.1,481.2 1361.8,481.3 1364.5,481.3 1367.2,481.4 1369.9,481.5 1372.7,481.5 1375.4,481.6 1378.1,481.6 1380.8,481.7 1383.5,481.7 1386.2,481.8 1389.0,481.8 1391.7,481.9 1394.4,481.9" fill="none" stroke="#808080" stroke-width="5.0" stroke-linejoin="round" stroke-linecap="butt"/>
<line x1="959.9" y1="70.7" x2="959.9" y2="129.2" stroke="#000" stroke-width="1.6" />
<line x1="959.9" y1="219.2" x2="959.9" y2="241.5" stroke="#000" stroke-width="1.6" />
<rect x="953.1" y="129.2" width="13.6" height="90.0" fill="none" stroke="#000" stroke-width="1.6"/>
<line x1="938.2" y1="162.7" x2="981.6" y2="162.7" stroke="#000" stroke-width="1.6" />
<line x1="956.9" y1="70.7" x2="962.9" y2="70.7" stroke="#000" stroke-width="1.4" />
<line x1="956.9" y1="241.5" x2="962.9" y2="241.5" stroke="#000" stroke-width="1.4" />
<path d="M955.2 70.7L959.9 66.3L964.6 70.7L959.9 75.1Z" fill="#000" stroke="#000" stroke-width="0.8" stroke-linejoin="round"/>
<path d="M955.2 129.2L959.9 124.8L964.6 129.2L959.9 133.6Z" fill="#000" stroke="#000" stroke-width="0.8" stroke-linejoin="round"/>
<path d="M955.2 155.3L959.9 150.9L964.6 155.3L959.9 159.7Z" fill="#000" stroke="#000" stroke-width="0.8" stroke-linejoin="round"/>
<path d="M955.2 161.7L959.9 157.3L964.6 161.7L959.9 166.1Z" fill="#000" stroke="#000" stroke-width="0.8" stroke-linejoin="round"/>
<path d="M955.2 219.2L959.9 214.8L964.6 219.2L959.9 223.6Z" fill="#000" stroke="#000" stroke-width="0.8" stroke-linejoin="round"/>
<path d="M955.2 241.5L959.9 237.1L964.6 241.5L959.9 245.9Z" fill="#000" stroke="#000" stroke-width="0.8" stroke-linejoin="round"/>
<line x1="1014.3" y1="303.2" x2="1014.3" y2="312.8" stroke="#000" stroke-width="1.6" />
<line x1="1014.3" y1="356.6" x2="1014.3" y2="363.4" stroke="#000" stroke-width="1.6" />
<rect x="1007.5" y="312.8" width="13.6" height="43.8" fill="none" stroke="#000" stroke-width="1.6"/>
<line x1="992.6" y1="329.2" x2="1036.0" y2="329.2" stroke="#000" stroke-width="1.6" />
<line x1="1011.3" y1="303.2" x2="1017.3" y2="303.2" stroke="#000" stroke-width="1.4" />
<line x1="1011.3" y1="363.4" x2="1017.3" y2="363.4" stroke="#000" stroke-width="1.4" />
<path d="M1009.6 303.2L1014.3 298.8L1019.0 303.2L1014.3 307.6Z" fill="#000" stroke="#000" stroke-width="0.8" stroke-linejoin="round"/>
<path d="M1009.6 312.8L1014.3 308.4L1019.0 312.8L1014.3 317.2Z" fill="#000" stroke="#000" stroke-width="0.8" stroke-linejoin="round"/>
<path d="M1009.6 329.2L1014.3 324.8L1019.0 329.2L1014.3 333.6Z" fill="#000" stroke="#000" stroke-width="0.8" stroke-linejoin="round"/>
<path d="M1009.6 356.6L1014.3 352.2L1019.0 356.6L1014.3 361.0Z" fill="#000" stroke="#000" stroke-width="0.8" stroke-linejoin="round"/>
<path d="M1009.6 362.5L1014.3 358.1L1019.0 362.5L1014.3 366.9Z" fill="#000" stroke="#000" stroke-width="0.8" stroke-linejoin="round"/>
<line x1="1068.8" y1="378.4" x2="1068.8" y2="392.1" stroke="#000" stroke-width="1.6" />
<line x1="1068.8" y1="408.5" x2="1068.8" y2="421.6" stroke="#000" stroke-width="1.6" />
<rect x="1062.0" y="392.1" width="13.6" height="16.4" fill="none" stroke="#000" stroke-width="1.6"/>
<line x1="1047.1" y1="399.8" x2="1090.5" y2="399.8" stroke="#000" stroke-width="1.6" />
<line x1="1065.8" y1="378.4" x2="1071.8" y2="378.4" stroke="#000" stroke-width="1.4" />
<line x1="1065.8" y1="421.6" x2="1071.8" y2="421.6" stroke="#000" stroke-width="1.4" />
<path d="M1064.1 378.4L1068.8 374.0L1073.5 378.4L1068.8 382.8Z" fill="#000" stroke="#000" stroke-width="0.8" stroke-linejoin="round"/>
<path d="M1064.1 390.7L1068.8 386.3L1073.5 390.7L1068.8 395.1Z" fill="#000" stroke="#000" stroke-width="0.8" stroke-linejoin="round"/>
<path d="M1064.1 400.3L1068.8 395.9L1073.5 400.3L1068.8 404.7Z" fill="#000" stroke="#000" stroke-width="0.8" stroke-linejoin="round"/>
<path d="M1064.1 404.4L1068.8 400.0L1073.5 404.4L1068.8 408.8Z" fill="#000" stroke="#000" stroke-width="0.8" stroke-linejoin="round"/>
<path d="M1064.1 414.0L1068.8 409.6L1073.5 414.0L1068.8 418.4Z" fill="#000" stroke="#000" stroke-width="0.8" stroke-linejoin="round"/>
<path d="M1064.1 421.6L1068.8 417.2L1073.5 421.6L1068.8 426.0Z" fill="#000" stroke="#000" stroke-width="0.8" stroke-linejoin="round"/>
<line x1="1231.4" y1="441.9" x2="1231.4" y2="472.0" stroke="#000" stroke-width="1.6" />
<line x1="1231.4" y1="504.2" x2="1231.4" y2="509.3" stroke="#000" stroke-width="1.6" />
<rect x="1224.6" y="472.0" width="13.6" height="32.2" fill="none" stroke="#000" stroke-width="1.6"/>
<line x1="1209.7" y1="486.0" x2="1253.1" y2="486.0" stroke="#000" stroke-width="1.6" />
<line x1="1228.4" y1="441.9" x2="1234.4" y2="441.9" stroke="#000" stroke-width="1.4" />
<line x1="1228.4" y1="509.3" x2="1234.4" y2="509.3" stroke="#000" stroke-width="1.4" />
<path d="M1226.7 441.9L1231.4 437.5L1236.1 441.9L1231.4 446.3Z" fill="#000" stroke="#000" stroke-width="0.8" stroke-linejoin="round"/>
<path d="M1226.7 474.0L1231.4 469.6L1236.1 474.0L1231.4 478.4Z" fill="#000" stroke="#000" stroke-width="0.8" stroke-linejoin="round"/>
<path d="M1226.7 480.0L1231.4 475.6L1236.1 480.0L1231.4 484.4Z" fill="#000" stroke="#000" stroke-width="0.8" stroke-linejoin="round"/>
<path d="M1226.7 486.0L1231.4 481.6L1236.1 486.0L1231.4 490.4Z" fill="#000" stroke="#000" stroke-width="0.8" stroke-linejoin="round"/>
<path d="M1226.7 504.2L1231.4 499.8L1236.1 504.2L1231.4 508.6Z" fill="#000" stroke="#000" stroke-width="0.8" stroke-linejoin="round"/>
<path d="M1226.7 508.5L1231.4 504.1L1236.1 508.5L1231.4 512.9Z" fill="#000" stroke="#000" stroke-width="0.8" stroke-linejoin="round"/>
<line x1="1394.4" y1="439.7" x2="1394.4" y2="448.3" stroke="#000" stroke-width="1.6" />
<line x1="1394.4" y1="489.6" x2="1394.4" y2="522.0" stroke="#000" stroke-width="1.6" />
<rect x="1387.6" y="448.3" width="13.6" height="41.3" fill="none" stroke="#000" stroke-width="1.6"/>
<line x1="1372.7" y1="468.3" x2="1416.1" y2="468.3" stroke="#000" stroke-width="1.6" />
<line x1="1391.4" y1="439.7" x2="1397.4" y2="439.7" stroke="#000" stroke-width="1.4" />
<line x1="1391.4" y1="522.0" x2="1397.4" y2="522.0" stroke="#000" stroke-width="1.4" />
<path d="M1389.7 439.7L1394.4 435.3L1399.1 439.7L1394.4 444.1Z" fill="#000" stroke="#000" stroke-width="0.8" stroke-linejoin="round"/>
<path d="M1389.7 455.5L1394.4 451.1L1399.1 455.5L1394.4 459.9Z" fill="#000" stroke="#000" stroke-width="0.8" stroke-linejoin="round"/>
<path d="M1389.7 457.5L1394.4 453.1L1399.1 457.5L1394.4 461.9Z" fill="#000" stroke="#000" stroke-width="0.8" stroke-linejoin="round"/>
<path d="M1389.7 468.9L1394.4 464.5L1399.1 468.9L1394.4 473.3Z" fill="#000" stroke="#000" stroke-width="0.8" stroke-linejoin="round"/>
<path d="M1389.7 522.0L1394.4 517.6L1399.1 522.0L1394.4 526.4Z" fill="#000" stroke="#000" stroke-width="0.8" stroke-linejoin="round"/>
<text x="804" y="31" font-size="42.5" font-weight="bold" style="stroke-width:0.5px">b</text>
<text transform="translate(830.6 303.8) rotate(-90)" font-size="33" text-anchor="middle" textLength="340.5" lengthAdjust="spacingAndGlyphs">Young,s modulus (kPa)</text>
<text x="1217.3" y="650.4" font-size="33" text-anchor="middle" textLength="149.6" lengthAdjust="spacingAndGlyphs">% Callose</text>
</g>
</svg></body></html>
